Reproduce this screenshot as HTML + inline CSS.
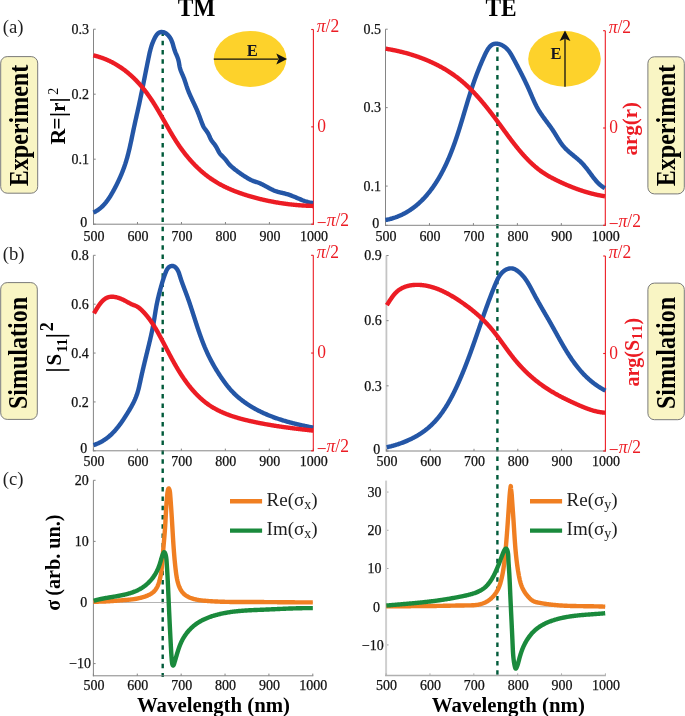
<!DOCTYPE html><html><head><meta charset="utf-8"><style>html,body{margin:0;padding:0;background:#fff;}svg{display:block;will-change:transform;}text{font-family:"Liberation Serif",serif;}</style></head><body>
<svg width="685" height="716" viewBox="0 0 685 716">
<rect width="685" height="716" fill="#fff"/>
<line x1="162.70" y1="31.40" x2="162.70" y2="677.00" stroke="#005a3a" stroke-width="2.4" stroke-dasharray="4.5 4.8"/>
<line x1="497.40" y1="47.20" x2="497.40" y2="677.00" stroke="#005a3a" stroke-width="2.4" stroke-dasharray="4.5 4.8"/>
<line x1="93.50" y1="29.20" x2="93.50" y2="224.70" stroke="#858585" stroke-width="1.00"/>
<line x1="93.00" y1="224.20" x2="313.90" y2="224.20" stroke="#858585" stroke-width="1.00"/>
<line x1="93.50" y1="224.20" x2="93.50" y2="222.00" stroke="#858585" stroke-width="1.00"/>
<line x1="137.48" y1="224.20" x2="137.48" y2="222.00" stroke="#858585" stroke-width="1.00"/>
<line x1="181.46" y1="224.20" x2="181.46" y2="222.00" stroke="#858585" stroke-width="1.00"/>
<line x1="225.44" y1="224.20" x2="225.44" y2="222.00" stroke="#858585" stroke-width="1.00"/>
<line x1="269.42" y1="224.20" x2="269.42" y2="222.00" stroke="#858585" stroke-width="1.00"/>
<line x1="313.40" y1="224.20" x2="313.40" y2="222.00" stroke="#858585" stroke-width="1.00"/>
<line x1="93.50" y1="224.20" x2="95.70" y2="224.20" stroke="#858585" stroke-width="1.00"/>
<line x1="93.50" y1="159.20" x2="95.70" y2="159.20" stroke="#858585" stroke-width="1.00"/>
<line x1="93.50" y1="94.20" x2="95.70" y2="94.20" stroke="#858585" stroke-width="1.00"/>
<line x1="93.50" y1="29.20" x2="95.70" y2="29.20" stroke="#858585" stroke-width="1.00"/>
<line x1="313.40" y1="29.50" x2="313.40" y2="224.70" stroke="#ec1c24" stroke-width="1.10"/>
<line x1="313.40" y1="29.50" x2="311.20" y2="29.50" stroke="#ec1c24" stroke-width="1.10"/>
<line x1="313.40" y1="126.85" x2="311.20" y2="126.85" stroke="#ec1c24" stroke-width="1.10"/>
<line x1="313.40" y1="224.20" x2="311.20" y2="224.20" stroke="#ec1c24" stroke-width="1.10"/>
<text x="94.00" y="240.80" font-size="14" fill="#111" stroke="#111" stroke-width="0.25" text-anchor="middle">500</text>
<text x="137.98" y="240.80" font-size="14" fill="#111" stroke="#111" stroke-width="0.25" text-anchor="middle">600</text>
<text x="181.96" y="240.80" font-size="14" fill="#111" stroke="#111" stroke-width="0.25" text-anchor="middle">700</text>
<text x="225.94" y="240.80" font-size="14" fill="#111" stroke="#111" stroke-width="0.25" text-anchor="middle">800</text>
<text x="269.92" y="240.80" font-size="14" fill="#111" stroke="#111" stroke-width="0.25" text-anchor="middle">900</text>
<text x="313.90" y="240.80" font-size="14" fill="#111" stroke="#111" stroke-width="0.25" text-anchor="middle">1000</text>
<text x="87.30" y="226.80" font-size="14" fill="#111" stroke="#111" stroke-width="0.25" text-anchor="end">0</text>
<text x="88.90" y="164.00" font-size="14" fill="#111" stroke="#111" stroke-width="0.25" text-anchor="end">0.1</text>
<text x="88.90" y="99.00" font-size="14" fill="#111" stroke="#111" stroke-width="0.25" text-anchor="end">0.2</text>
<text x="88.90" y="34.00" font-size="14" fill="#111" stroke="#111" stroke-width="0.25" text-anchor="end">0.3</text>
<text x="0" y="0" font-size="17.5" fill="#ec1c24" transform="translate(316.80,31.90) scale(1,1.1)"><tspan font-style="italic">&#960;</tspan>/2</text>
<text x="0" y="0" font-size="17.5" fill="#ec1c24" transform="translate(317.30,131.85) scale(1,1.1)">0</text>
<text x="0" y="0" font-size="17.5" fill="#ec1c24" transform="translate(316.80,225.80) scale(1,1.1)"><tspan dy="2.8">&#8722;</tspan><tspan dy="-2.8" font-style="italic">&#960;</tspan>/2</text>
<line x1="385.50" y1="29.20" x2="385.50" y2="225.80" stroke="#858585" stroke-width="1.00"/>
<line x1="385.00" y1="225.30" x2="605.80" y2="225.30" stroke="#858585" stroke-width="1.00"/>
<line x1="385.50" y1="225.30" x2="385.50" y2="223.10" stroke="#858585" stroke-width="1.00"/>
<line x1="429.46" y1="225.30" x2="429.46" y2="223.10" stroke="#858585" stroke-width="1.00"/>
<line x1="473.42" y1="225.30" x2="473.42" y2="223.10" stroke="#858585" stroke-width="1.00"/>
<line x1="517.38" y1="225.30" x2="517.38" y2="223.10" stroke="#858585" stroke-width="1.00"/>
<line x1="561.34" y1="225.30" x2="561.34" y2="223.10" stroke="#858585" stroke-width="1.00"/>
<line x1="605.30" y1="225.30" x2="605.30" y2="223.10" stroke="#858585" stroke-width="1.00"/>
<line x1="385.50" y1="225.30" x2="387.70" y2="225.30" stroke="#858585" stroke-width="1.00"/>
<line x1="385.50" y1="186.08" x2="387.70" y2="186.08" stroke="#858585" stroke-width="1.00"/>
<line x1="385.50" y1="107.64" x2="387.70" y2="107.64" stroke="#858585" stroke-width="1.00"/>
<line x1="385.50" y1="29.20" x2="387.70" y2="29.20" stroke="#858585" stroke-width="1.00"/>
<line x1="605.30" y1="30.70" x2="605.30" y2="225.80" stroke="#ec1c24" stroke-width="1.10"/>
<line x1="605.30" y1="30.70" x2="603.10" y2="30.70" stroke="#ec1c24" stroke-width="1.10"/>
<line x1="605.30" y1="128.00" x2="603.10" y2="128.00" stroke="#ec1c24" stroke-width="1.10"/>
<line x1="605.30" y1="225.30" x2="603.10" y2="225.30" stroke="#ec1c24" stroke-width="1.10"/>
<text x="386.00" y="240.80" font-size="14" fill="#111" stroke="#111" stroke-width="0.25" text-anchor="middle">500</text>
<text x="429.96" y="240.80" font-size="14" fill="#111" stroke="#111" stroke-width="0.25" text-anchor="middle">600</text>
<text x="473.92" y="240.80" font-size="14" fill="#111" stroke="#111" stroke-width="0.25" text-anchor="middle">700</text>
<text x="517.88" y="240.80" font-size="14" fill="#111" stroke="#111" stroke-width="0.25" text-anchor="middle">800</text>
<text x="561.84" y="240.80" font-size="14" fill="#111" stroke="#111" stroke-width="0.25" text-anchor="middle">900</text>
<text x="605.80" y="240.80" font-size="14" fill="#111" stroke="#111" stroke-width="0.25" text-anchor="middle">1000</text>
<text x="379.30" y="227.90" font-size="14" fill="#111" stroke="#111" stroke-width="0.25" text-anchor="end">0</text>
<text x="380.90" y="190.88" font-size="14" fill="#111" stroke="#111" stroke-width="0.25" text-anchor="end">0.1</text>
<text x="380.90" y="112.44" font-size="14" fill="#111" stroke="#111" stroke-width="0.25" text-anchor="end">0.3</text>
<text x="380.90" y="34.00" font-size="14" fill="#111" stroke="#111" stroke-width="0.25" text-anchor="end">0.5</text>
<text x="0" y="0" font-size="17.5" fill="#ec1c24" transform="translate(608.70,33.10) scale(1,1.1)"><tspan font-style="italic">&#960;</tspan>/2</text>
<text x="0" y="0" font-size="17.5" fill="#ec1c24" transform="translate(609.20,133.00) scale(1,1.1)">0</text>
<text x="0" y="0" font-size="17.5" fill="#ec1c24" transform="translate(608.70,226.90) scale(1,1.1)"><tspan dy="2.8">&#8722;</tspan><tspan dy="-2.8" font-style="italic">&#960;</tspan>/2</text>
<line x1="93.40" y1="255.30" x2="93.40" y2="451.30" stroke="#858585" stroke-width="1.00"/>
<line x1="92.90" y1="450.80" x2="313.80" y2="450.80" stroke="#858585" stroke-width="1.00"/>
<line x1="93.40" y1="450.80" x2="93.40" y2="448.60" stroke="#858585" stroke-width="1.00"/>
<line x1="137.38" y1="450.80" x2="137.38" y2="448.60" stroke="#858585" stroke-width="1.00"/>
<line x1="181.36" y1="450.80" x2="181.36" y2="448.60" stroke="#858585" stroke-width="1.00"/>
<line x1="225.34" y1="450.80" x2="225.34" y2="448.60" stroke="#858585" stroke-width="1.00"/>
<line x1="269.32" y1="450.80" x2="269.32" y2="448.60" stroke="#858585" stroke-width="1.00"/>
<line x1="313.30" y1="450.80" x2="313.30" y2="448.60" stroke="#858585" stroke-width="1.00"/>
<line x1="93.40" y1="450.80" x2="95.60" y2="450.80" stroke="#858585" stroke-width="1.00"/>
<line x1="93.40" y1="401.93" x2="95.60" y2="401.93" stroke="#858585" stroke-width="1.00"/>
<line x1="93.40" y1="353.05" x2="95.60" y2="353.05" stroke="#858585" stroke-width="1.00"/>
<line x1="93.40" y1="304.18" x2="95.60" y2="304.18" stroke="#858585" stroke-width="1.00"/>
<line x1="93.40" y1="255.30" x2="95.60" y2="255.30" stroke="#858585" stroke-width="1.00"/>
<line x1="313.30" y1="255.30" x2="313.30" y2="451.30" stroke="#ec1c24" stroke-width="1.10"/>
<line x1="313.30" y1="255.30" x2="311.10" y2="255.30" stroke="#ec1c24" stroke-width="1.10"/>
<line x1="313.30" y1="353.05" x2="311.10" y2="353.05" stroke="#ec1c24" stroke-width="1.10"/>
<line x1="313.30" y1="450.80" x2="311.10" y2="450.80" stroke="#ec1c24" stroke-width="1.10"/>
<text x="93.90" y="466.00" font-size="14" fill="#111" stroke="#111" stroke-width="0.25" text-anchor="middle">500</text>
<text x="137.88" y="466.00" font-size="14" fill="#111" stroke="#111" stroke-width="0.25" text-anchor="middle">600</text>
<text x="181.86" y="466.00" font-size="14" fill="#111" stroke="#111" stroke-width="0.25" text-anchor="middle">700</text>
<text x="225.84" y="466.00" font-size="14" fill="#111" stroke="#111" stroke-width="0.25" text-anchor="middle">800</text>
<text x="269.82" y="466.00" font-size="14" fill="#111" stroke="#111" stroke-width="0.25" text-anchor="middle">900</text>
<text x="313.80" y="466.00" font-size="14" fill="#111" stroke="#111" stroke-width="0.25" text-anchor="middle">1000</text>
<text x="87.20" y="453.40" font-size="14" fill="#111" stroke="#111" stroke-width="0.25" text-anchor="end">0</text>
<text x="88.80" y="406.73" font-size="14" fill="#111" stroke="#111" stroke-width="0.25" text-anchor="end">0.2</text>
<text x="88.80" y="357.85" font-size="14" fill="#111" stroke="#111" stroke-width="0.25" text-anchor="end">0.4</text>
<text x="88.80" y="308.98" font-size="14" fill="#111" stroke="#111" stroke-width="0.25" text-anchor="end">0.6</text>
<text x="88.80" y="260.10" font-size="14" fill="#111" stroke="#111" stroke-width="0.25" text-anchor="end">0.8</text>
<text x="0" y="0" font-size="17.5" fill="#ec1c24" transform="translate(316.70,257.70) scale(1,1.1)"><tspan font-style="italic">&#960;</tspan>/2</text>
<text x="0" y="0" font-size="17.5" fill="#ec1c24" transform="translate(317.20,358.05) scale(1,1.1)">0</text>
<text x="0" y="0" font-size="17.5" fill="#ec1c24" transform="translate(316.70,452.40) scale(1,1.1)"><tspan dy="2.8">&#8722;</tspan><tspan dy="-2.8" font-style="italic">&#960;</tspan>/2</text>
<line x1="386.40" y1="255.50" x2="386.40" y2="451.60" stroke="#c4c4c4" stroke-width="1.80"/>
<line x1="385.90" y1="451.00" x2="605.90" y2="451.00" stroke="#858585" stroke-width="1.00"/>
<line x1="386.40" y1="451.00" x2="386.40" y2="448.80" stroke="#858585" stroke-width="1.00"/>
<line x1="430.20" y1="451.00" x2="430.20" y2="448.80" stroke="#858585" stroke-width="1.00"/>
<line x1="474.00" y1="451.00" x2="474.00" y2="448.80" stroke="#858585" stroke-width="1.00"/>
<line x1="517.80" y1="451.00" x2="517.80" y2="448.80" stroke="#858585" stroke-width="1.00"/>
<line x1="561.60" y1="451.00" x2="561.60" y2="448.80" stroke="#858585" stroke-width="1.00"/>
<line x1="605.40" y1="451.00" x2="605.40" y2="448.80" stroke="#858585" stroke-width="1.00"/>
<line x1="386.40" y1="451.00" x2="388.60" y2="451.00" stroke="#858585" stroke-width="1.00"/>
<line x1="386.40" y1="385.83" x2="388.60" y2="385.83" stroke="#858585" stroke-width="1.00"/>
<line x1="386.40" y1="320.67" x2="388.60" y2="320.67" stroke="#858585" stroke-width="1.00"/>
<line x1="386.40" y1="255.50" x2="388.60" y2="255.50" stroke="#858585" stroke-width="1.00"/>
<line x1="605.40" y1="256.00" x2="605.40" y2="451.50" stroke="#ec1c24" stroke-width="1.10"/>
<line x1="605.40" y1="256.00" x2="603.20" y2="256.00" stroke="#ec1c24" stroke-width="1.10"/>
<line x1="605.40" y1="353.50" x2="603.20" y2="353.50" stroke="#ec1c24" stroke-width="1.10"/>
<line x1="605.40" y1="451.00" x2="603.20" y2="451.00" stroke="#ec1c24" stroke-width="1.10"/>
<text x="386.90" y="466.00" font-size="14" fill="#111" stroke="#111" stroke-width="0.25" text-anchor="middle">500</text>
<text x="430.70" y="466.00" font-size="14" fill="#111" stroke="#111" stroke-width="0.25" text-anchor="middle">600</text>
<text x="474.50" y="466.00" font-size="14" fill="#111" stroke="#111" stroke-width="0.25" text-anchor="middle">700</text>
<text x="518.30" y="466.00" font-size="14" fill="#111" stroke="#111" stroke-width="0.25" text-anchor="middle">800</text>
<text x="562.10" y="466.00" font-size="14" fill="#111" stroke="#111" stroke-width="0.25" text-anchor="middle">900</text>
<text x="605.90" y="466.00" font-size="14" fill="#111" stroke="#111" stroke-width="0.25" text-anchor="middle">1000</text>
<text x="380.20" y="453.60" font-size="14" fill="#111" stroke="#111" stroke-width="0.25" text-anchor="end">0</text>
<text x="381.80" y="390.63" font-size="14" fill="#111" stroke="#111" stroke-width="0.25" text-anchor="end">0.3</text>
<text x="381.80" y="325.47" font-size="14" fill="#111" stroke="#111" stroke-width="0.25" text-anchor="end">0.6</text>
<text x="381.80" y="260.30" font-size="14" fill="#111" stroke="#111" stroke-width="0.25" text-anchor="end">0.9</text>
<text x="0" y="0" font-size="17.5" fill="#ec1c24" transform="translate(608.80,258.40) scale(1,1.1)"><tspan font-style="italic">&#960;</tspan>/2</text>
<text x="0" y="0" font-size="17.5" fill="#ec1c24" transform="translate(609.30,358.50) scale(1,1.1)">0</text>
<text x="0" y="0" font-size="17.5" fill="#ec1c24" transform="translate(608.80,452.60) scale(1,1.1)"><tspan dy="2.8">&#8722;</tspan><tspan dy="-2.8" font-style="italic">&#960;</tspan>/2</text>
<line x1="93.40" y1="602.49" x2="312.80" y2="602.49" stroke="#b4b4b4" stroke-width="1.00"/>
<line x1="93.40" y1="480.30" x2="93.40" y2="676.30" stroke="#858585" stroke-width="1.00"/>
<line x1="92.90" y1="675.80" x2="313.30" y2="675.80" stroke="#858585" stroke-width="1.00"/>
<line x1="93.40" y1="675.80" x2="93.40" y2="673.60" stroke="#858585" stroke-width="1.00"/>
<line x1="137.28" y1="675.80" x2="137.28" y2="673.60" stroke="#858585" stroke-width="1.00"/>
<line x1="181.16" y1="675.80" x2="181.16" y2="673.60" stroke="#858585" stroke-width="1.00"/>
<line x1="225.04" y1="675.80" x2="225.04" y2="673.60" stroke="#858585" stroke-width="1.00"/>
<line x1="268.92" y1="675.80" x2="268.92" y2="673.60" stroke="#858585" stroke-width="1.00"/>
<line x1="312.80" y1="675.80" x2="312.80" y2="673.60" stroke="#858585" stroke-width="1.00"/>
<line x1="93.40" y1="663.58" x2="95.60" y2="663.58" stroke="#858585" stroke-width="1.00"/>
<line x1="93.40" y1="602.49" x2="95.60" y2="602.49" stroke="#858585" stroke-width="1.00"/>
<line x1="93.40" y1="541.39" x2="95.60" y2="541.39" stroke="#858585" stroke-width="1.00"/>
<line x1="93.40" y1="480.30" x2="95.60" y2="480.30" stroke="#858585" stroke-width="1.00"/>
<text x="93.90" y="689.80" font-size="14" fill="#111" stroke="#111" stroke-width="0.25" text-anchor="middle">500</text>
<text x="137.78" y="689.80" font-size="14" fill="#111" stroke="#111" stroke-width="0.25" text-anchor="middle">600</text>
<text x="181.66" y="689.80" font-size="14" fill="#111" stroke="#111" stroke-width="0.25" text-anchor="middle">700</text>
<text x="225.54" y="689.80" font-size="14" fill="#111" stroke="#111" stroke-width="0.25" text-anchor="middle">800</text>
<text x="269.42" y="689.80" font-size="14" fill="#111" stroke="#111" stroke-width="0.25" text-anchor="middle">900</text>
<text x="313.30" y="689.80" font-size="14" fill="#111" stroke="#111" stroke-width="0.25" text-anchor="middle">1000</text>
<text x="91.10" y="668.38" font-size="14" fill="#111" stroke="#111" stroke-width="0.25" text-anchor="end">&#8722;10</text>
<text x="87.20" y="607.29" font-size="14" fill="#111" stroke="#111" stroke-width="0.25" text-anchor="end">0</text>
<text x="88.80" y="546.19" font-size="14" fill="#111" stroke="#111" stroke-width="0.25" text-anchor="end">10</text>
<text x="88.80" y="485.10" font-size="14" fill="#111" stroke="#111" stroke-width="0.25" text-anchor="end">20</text>
<line x1="386.10" y1="606.71" x2="605.40" y2="606.71" stroke="#b4b4b4" stroke-width="1.00"/>
<line x1="386.10" y1="480.60" x2="386.10" y2="676.10" stroke="#cfcfcf" stroke-width="2.00"/>
<line x1="385.10" y1="675.50" x2="605.90" y2="675.50" stroke="#b0b0b0" stroke-width="1.30"/>
<line x1="386.10" y1="675.50" x2="386.10" y2="673.30" stroke="#b0b0b0" stroke-width="1.00"/>
<line x1="429.96" y1="675.50" x2="429.96" y2="673.30" stroke="#b0b0b0" stroke-width="1.00"/>
<line x1="473.82" y1="675.50" x2="473.82" y2="673.30" stroke="#b0b0b0" stroke-width="1.00"/>
<line x1="517.68" y1="675.50" x2="517.68" y2="673.30" stroke="#b0b0b0" stroke-width="1.00"/>
<line x1="561.54" y1="675.50" x2="561.54" y2="673.30" stroke="#b0b0b0" stroke-width="1.00"/>
<line x1="605.40" y1="675.50" x2="605.40" y2="673.30" stroke="#b0b0b0" stroke-width="1.00"/>
<line x1="387.10" y1="644.93" x2="388.50" y2="644.93" stroke="#a0a0a0" stroke-width="1.00"/>
<line x1="387.10" y1="606.71" x2="388.50" y2="606.71" stroke="#a0a0a0" stroke-width="1.00"/>
<line x1="387.10" y1="568.50" x2="388.50" y2="568.50" stroke="#a0a0a0" stroke-width="1.00"/>
<line x1="387.10" y1="530.28" x2="388.50" y2="530.28" stroke="#a0a0a0" stroke-width="1.00"/>
<line x1="387.10" y1="492.06" x2="388.50" y2="492.06" stroke="#a0a0a0" stroke-width="1.00"/>
<text x="386.60" y="689.80" font-size="14" fill="#111" stroke="#111" stroke-width="0.25" text-anchor="middle">500</text>
<text x="430.46" y="689.80" font-size="14" fill="#111" stroke="#111" stroke-width="0.25" text-anchor="middle">600</text>
<text x="474.32" y="689.80" font-size="14" fill="#111" stroke="#111" stroke-width="0.25" text-anchor="middle">700</text>
<text x="518.18" y="689.80" font-size="14" fill="#111" stroke="#111" stroke-width="0.25" text-anchor="middle">800</text>
<text x="562.04" y="689.80" font-size="14" fill="#111" stroke="#111" stroke-width="0.25" text-anchor="middle">900</text>
<text x="605.90" y="689.80" font-size="14" fill="#111" stroke="#111" stroke-width="0.25" text-anchor="middle">1000</text>
<text x="383.80" y="649.73" font-size="14" fill="#111" stroke="#111" stroke-width="0.25" text-anchor="end">&#8722;10</text>
<text x="379.90" y="611.51" font-size="14" fill="#111" stroke="#111" stroke-width="0.25" text-anchor="end">0</text>
<text x="381.50" y="573.30" font-size="14" fill="#111" stroke="#111" stroke-width="0.25" text-anchor="end">10</text>
<text x="381.50" y="535.08" font-size="14" fill="#111" stroke="#111" stroke-width="0.25" text-anchor="end">20</text>
<text x="381.50" y="496.86" font-size="14" fill="#111" stroke="#111" stroke-width="0.25" text-anchor="end">30</text>
<path d="M93.46,212.59 L94.16,212.24 L94.84,211.89 L95.51,211.52 L96.17,211.13 L96.81,210.74 L97.44,210.33 L98.06,209.90 L98.66,209.47 L99.26,209.02 L99.84,208.57 L100.41,208.10 L100.97,207.62 L101.52,207.13 L102.05,206.62 L102.58,206.11 L103.10,205.59 L103.61,205.06 L104.10,204.52 L104.59,203.98 L105.07,203.42 L105.54,202.86 L106.01,202.29 L106.46,201.71 L106.91,201.12 L107.35,200.53 L107.78,199.93 L108.21,199.33 L108.63,198.72 L109.04,198.10 L109.45,197.48 L109.85,196.85 L110.24,196.22 L110.64,195.59 L111.02,194.95 L111.40,194.31 L111.78,193.67 L112.15,193.02 L112.52,192.37 L112.89,191.72 L113.25,191.07 L113.61,190.41 L113.97,189.76 L114.32,189.10 L114.67,188.44 L115.02,187.78 L115.37,187.12 L115.71,186.46 L116.05,185.80 L116.39,185.13 L116.73,184.47 L117.06,183.80 L117.39,183.13 L117.71,182.46 L118.04,181.79 L118.36,181.12 L118.67,180.45 L118.99,179.77 L119.30,179.10 L119.60,178.42 L119.91,177.75 L120.21,177.07 L120.51,176.39 L120.80,175.70 L121.09,175.02 L121.38,174.34 L121.66,173.65 L121.94,172.97 L122.22,172.28 L122.50,171.59 L122.77,170.90 L123.03,170.21 L123.30,169.51 L123.55,168.82 L123.81,168.13 L124.06,167.43 L124.31,166.73 L124.56,166.03 L124.80,165.33 L125.03,164.63 L125.27,163.93 L125.49,163.22 L125.72,162.52 L125.94,161.81 L126.16,161.10 L126.37,160.39 L126.58,159.68 L126.79,158.97 L127.00,158.26 L127.20,157.55 L127.39,156.83 L127.59,156.12 L127.78,155.40 L127.97,154.68 L128.16,153.96 L128.34,153.24 L128.52,152.52 L128.70,151.80 L128.88,151.08 L129.05,150.36 L129.23,149.64 L129.40,148.92 L129.56,148.19 L129.73,147.47 L129.90,146.74 L130.06,146.02 L130.22,145.29 L130.38,144.57 L130.54,143.84 L130.70,143.11 L130.86,142.39 L131.01,141.66 L131.17,140.93 L131.32,140.20 L131.48,139.47 L131.63,138.75 L131.78,138.02 L131.93,137.29 L132.08,136.56 L132.24,135.83 L132.39,135.10 L132.54,134.38 L132.69,133.65 L132.84,132.92 L132.99,132.19 L133.14,131.47 L133.30,130.74 L133.45,130.01 L133.60,129.28 L133.76,128.56 L133.91,127.83 L134.07,127.11 L134.22,126.38 L134.38,125.66 L134.54,124.93 L134.70,124.21 L134.86,123.48 L135.02,122.76 L135.18,122.04 L135.34,121.31 L135.50,120.59 L135.66,119.87 L135.82,119.14 L135.99,118.42 L136.15,117.70 L136.31,116.98 L136.47,116.25 L136.64,115.53 L136.80,114.81 L136.96,114.09 L137.12,113.36 L137.29,112.64 L137.45,111.92 L137.61,111.19 L137.77,110.47 L137.93,109.75 L138.10,109.03 L138.26,108.30 L138.42,107.58 L138.57,106.85 L138.73,106.13 L138.89,105.41 L139.05,104.68 L139.21,103.96 L139.36,103.23 L139.52,102.51 L139.67,101.78 L139.83,101.05 L139.98,100.33 L140.14,99.60 L140.29,98.87 L140.44,98.15 L140.59,97.42 L140.74,96.69 L140.89,95.96 L141.04,95.24 L141.19,94.51 L141.34,93.78 L141.49,93.05 L141.64,92.32 L141.79,91.60 L141.94,90.87 L142.09,90.14 L142.23,89.41 L142.38,88.68 L142.53,87.95 L142.68,87.22 L142.82,86.50 L142.97,85.77 L143.11,85.04 L143.26,84.31 L143.41,83.58 L143.55,82.85 L143.70,82.12 L143.84,81.39 L143.99,80.66 L144.13,79.93 L144.28,79.20 L144.42,78.48 L144.57,77.75 L144.71,77.02 L144.85,76.29 L145.00,75.56 L145.14,74.83 L145.29,74.10 L145.43,73.38 L145.58,72.65 L145.72,71.92 L145.87,71.19 L146.01,70.46 L146.16,69.74 L146.30,69.01 L146.45,68.28 L146.59,67.55 L146.74,66.83 L146.89,66.10 L147.03,65.37 L147.18,64.65 L147.33,63.92 L147.47,63.20 L147.62,62.47 L147.77,61.75 L147.92,61.02 L148.06,60.30 L148.21,59.57 L148.36,58.85 L148.51,58.12 L148.66,57.40 L148.81,56.68 L148.96,55.95 L149.12,55.23 L149.27,54.51 L149.43,53.79 L149.59,53.07 L149.76,52.35 L149.93,51.63 L150.11,50.92 L150.29,50.20 L150.47,49.49 L150.66,48.77 L150.86,48.06 L151.07,47.35 L151.28,46.64 L151.51,45.93 L151.74,45.22 L151.98,44.52 L152.23,43.82 L152.49,43.12 L152.76,42.42 L153.04,41.72 L153.33,41.03 L153.64,40.33 L153.96,39.64 L154.29,38.95 L154.64,38.27 L155.00,37.58 L155.37,36.90 L155.76,36.24 L156.17,35.58 L156.61,34.96 L157.07,34.38 L157.56,33.84 L158.08,33.35 L158.63,32.93 L159.22,32.58 L159.86,32.32 L160.52,32.13 L161.22,32.03 L161.93,32.01 L162.65,32.07 L163.37,32.20 L164.08,32.41 L164.77,32.69 L165.43,33.03 L166.06,33.44 L166.67,33.89 L167.25,34.38 L167.80,34.90 L168.32,35.44 L168.81,36.01 L169.28,36.60 L169.72,37.21 L170.14,37.84 L170.53,38.49 L170.89,39.15 L171.22,39.81 L171.53,40.49 L171.82,41.17 L172.08,41.86 L172.33,42.56 L172.56,43.26 L172.78,43.96 L172.98,44.67 L173.18,45.38 L173.38,46.09 L173.58,46.80 L173.77,47.51 L173.97,48.22 L174.18,48.93 L174.40,49.63 L174.63,50.34 L174.88,51.04 L175.14,51.73 L175.42,52.42 L175.70,53.11 L176.00,53.79 L176.30,54.48 L176.59,55.16 L176.89,55.85 L177.17,56.53 L177.45,57.22 L177.71,57.92 L177.96,58.62 L178.18,59.32 L178.38,60.04 L178.55,60.76 L178.71,61.48 L178.85,62.21 L178.98,62.94 L179.11,63.67 L179.23,64.40 L179.35,65.14 L179.48,65.87 L179.62,66.60 L179.77,67.32 L179.95,68.04 L180.14,68.75 L180.36,69.45 L180.60,70.15 L180.85,70.85 L181.12,71.54 L181.40,72.22 L181.69,72.91 L181.99,73.59 L182.29,74.27 L182.59,74.96 L182.88,75.64 L183.18,76.33 L183.46,77.02 L183.73,77.71 L184.00,78.40 L184.26,79.10 L184.51,79.80 L184.75,80.50 L184.99,81.20 L185.22,81.91 L185.45,82.61 L185.68,83.31 L185.91,84.02 L186.14,84.72 L186.37,85.42 L186.59,86.13 L186.83,86.83 L187.06,87.52 L187.30,88.22 L187.55,88.92 L187.80,89.61 L188.06,90.30 L188.33,90.99 L188.60,91.67 L188.88,92.36 L189.16,93.04 L189.45,93.72 L189.75,94.40 L190.04,95.08 L190.34,95.75 L190.65,96.43 L190.96,97.10 L191.27,97.78 L191.58,98.45 L191.89,99.12 L192.21,99.80 L192.53,100.47 L192.85,101.14 L193.16,101.81 L193.48,102.48 L193.80,103.15 L194.12,103.83 L194.44,104.50 L194.75,105.17 L195.06,105.84 L195.38,106.52 L195.68,107.20 L195.99,107.87 L196.29,108.55 L196.59,109.23 L196.89,109.91 L197.18,110.59 L197.46,111.28 L197.75,111.96 L198.02,112.65 L198.30,113.34 L198.57,114.03 L198.84,114.72 L199.10,115.41 L199.37,116.11 L199.63,116.80 L199.89,117.49 L200.15,118.19 L200.40,118.88 L200.66,119.58 L200.92,120.27 L201.18,120.97 L201.43,121.66 L201.69,122.36 L201.95,123.05 L202.21,123.74 L202.48,124.43 L202.77,125.11 L203.07,125.78 L203.39,126.44 L203.74,127.09 L204.12,127.71 L204.53,128.32 L204.96,128.92 L205.40,129.52 L205.85,130.11 L206.29,130.70 L206.72,131.30 L207.14,131.92 L207.53,132.54 L207.91,133.18 L208.28,133.82 L208.62,134.48 L208.95,135.14 L209.26,135.81 L209.56,136.49 L209.85,137.17 L210.15,137.85 L210.46,138.52 L210.78,139.17 L211.13,139.81 L211.50,140.44 L211.92,141.04 L212.35,141.63 L212.80,142.20 L213.27,142.78 L213.73,143.35 L214.19,143.93 L214.63,144.52 L215.06,145.13 L215.48,145.75 L215.87,146.37 L216.26,147.01 L216.63,147.66 L216.99,148.31 L217.34,148.97 L217.68,149.63 L218.01,150.29 L218.35,150.95 L218.70,151.60 L219.06,152.24 L219.44,152.86 L219.84,153.47 L220.28,154.04 L220.75,154.60 L221.25,155.13 L221.77,155.65 L222.30,156.17 L222.83,156.68 L223.36,157.20 L223.87,157.73 L224.38,158.27 L224.88,158.81 L225.36,159.37 L225.83,159.94 L226.29,160.52 L226.73,161.11 L227.16,161.70 L227.60,162.30 L228.03,162.89 L228.48,163.47 L228.94,164.03 L229.43,164.58 L229.94,165.11 L230.46,165.63 L231.00,166.13 L231.55,166.62 L232.10,167.11 L232.66,167.59 L233.23,168.06 L233.80,168.53 L234.37,169.00 L234.94,169.46 L235.53,169.91 L236.11,170.36 L236.70,170.80 L237.29,171.25 L237.88,171.68 L238.48,172.12 L239.08,172.55 L239.68,172.97 L240.29,173.40 L240.90,173.82 L241.51,174.23 L242.12,174.65 L242.73,175.06 L243.35,175.47 L243.97,175.88 L244.59,176.29 L245.21,176.70 L245.83,177.10 L246.46,177.49 L247.09,177.88 L247.73,178.26 L248.37,178.63 L249.01,178.99 L249.66,179.34 L250.32,179.67 L250.98,179.99 L251.64,180.29 L252.32,180.58 L253.00,180.84 L253.69,181.10 L254.38,181.34 L255.08,181.57 L255.77,181.81 L256.47,182.04 L257.16,182.29 L257.86,182.54 L258.54,182.79 L259.23,183.06 L259.91,183.34 L260.59,183.63 L261.27,183.93 L261.93,184.25 L262.60,184.58 L263.26,184.91 L263.92,185.26 L264.57,185.60 L265.23,185.96 L265.88,186.32 L266.53,186.68 L267.18,187.04 L267.84,187.40 L268.49,187.76 L269.14,188.12 L269.80,188.47 L270.45,188.82 L271.11,189.15 L271.78,189.48 L272.44,189.80 L273.11,190.11 L273.79,190.41 L274.47,190.69 L275.16,190.96 L275.85,191.21 L276.55,191.44 L277.25,191.66 L277.96,191.86 L278.68,192.05 L279.40,192.24 L280.12,192.41 L280.84,192.59 L281.56,192.75 L282.29,192.92 L283.01,193.09 L283.73,193.26 L284.45,193.43 L285.17,193.62 L285.89,193.81 L286.60,194.01 L287.31,194.22 L288.01,194.44 L288.71,194.67 L289.41,194.91 L290.11,195.16 L290.80,195.41 L291.49,195.67 L292.18,195.94 L292.87,196.21 L293.56,196.49 L294.24,196.77 L294.93,197.06 L295.61,197.34 L296.30,197.63 L296.98,197.93 L297.66,198.22 L298.35,198.51 L299.04,198.80 L299.72,199.09 L300.41,199.38 L301.10,199.66 L301.79,199.94 L302.48,200.22 L303.18,200.48 L303.87,200.74 L304.57,201.00 L305.27,201.24 L305.97,201.47 L306.68,201.69 L307.39,201.90 L308.10,202.10 L308.82,202.28 L309.53,202.45 L310.26,202.60 L310.98,202.73 L311.72,202.85 L312.45,202.95 L313.19,203.03" fill="none" stroke="#2456a6" stroke-width="4.40" stroke-linejoin="round" stroke-linecap="butt"/>
<path d="M93.32,55.37 L93.80,55.49 L94.27,55.60 L94.75,55.71 L95.22,55.83 L95.70,55.95 L96.17,56.08 L96.64,56.21 L97.11,56.34 L97.57,56.47 L98.04,56.60 L98.50,56.74 L98.96,56.88 L99.43,57.03 L99.88,57.17 L100.34,57.32 L100.80,57.47 L101.25,57.63 L101.71,57.78 L102.16,57.94 L102.61,58.11 L103.06,58.27 L103.51,58.44 L103.95,58.61 L104.40,58.78 L104.84,58.95 L105.28,59.13 L105.72,59.31 L106.16,59.49 L106.60,59.68 L107.03,59.87 L107.47,60.06 L107.90,60.25 L108.33,60.44 L108.76,60.64 L109.19,60.84 L109.62,61.04 L110.04,61.24 L110.46,61.45 L110.89,61.66 L111.31,61.87 L111.73,62.08 L112.15,62.30 L112.56,62.52 L112.98,62.74 L113.39,62.96 L113.80,63.19 L114.22,63.41 L114.62,63.64 L115.03,63.87 L115.44,64.11 L115.84,64.34 L116.25,64.58 L116.65,64.82 L117.05,65.06 L117.45,65.31 L117.85,65.56 L118.25,65.80 L118.64,66.05 L119.03,66.31 L119.43,66.56 L119.82,66.82 L120.21,67.08 L120.59,67.34 L120.98,67.60 L121.37,67.87 L121.75,68.13 L122.13,68.40 L122.51,68.67 L122.89,68.95 L123.27,69.22 L123.65,69.50 L124.02,69.78 L124.40,70.06 L124.77,70.34 L125.14,70.62 L125.51,70.91 L125.88,71.19 L126.24,71.48 L126.61,71.78 L126.97,72.07 L127.34,72.36 L127.70,72.66 L128.06,72.96 L128.42,73.26 L128.77,73.56 L129.13,73.86 L129.48,74.17 L129.84,74.47 L130.19,74.78 L130.54,75.09 L130.89,75.40 L131.23,75.72 L131.58,76.03 L131.92,76.35 L132.27,76.67 L132.61,76.99 L132.95,77.31 L133.29,77.63 L133.63,77.95 L133.96,78.28 L134.30,78.61 L134.63,78.94 L134.96,79.27 L135.29,79.60 L135.62,79.93 L135.95,80.27 L136.28,80.60 L136.60,80.94 L136.93,81.28 L137.25,81.62 L137.57,81.96 L137.89,82.30 L138.21,82.65 L138.53,82.99 L138.84,83.34 L139.16,83.68 L139.47,84.03 L139.78,84.38 L140.09,84.74 L140.40,85.09 L140.71,85.44 L141.02,85.80 L141.32,86.15 L141.63,86.51 L141.93,86.87 L142.23,87.23 L142.53,87.59 L142.83,87.95 L143.12,88.32 L143.42,88.68 L143.71,89.05 L144.01,89.41 L144.30,89.78 L144.59,90.15 L144.88,90.52 L145.17,90.89 L145.45,91.26 L145.74,91.64 L146.02,92.01 L146.30,92.38 L146.59,92.76 L146.87,93.14 L147.14,93.51 L147.42,93.89 L147.70,94.27 L147.97,94.65 L148.25,95.03 L148.52,95.41 L148.79,95.80 L149.06,96.18 L149.33,96.56 L149.59,96.95 L149.86,97.33 L150.13,97.72 L150.39,98.11 L150.65,98.50 L150.92,98.89 L151.18,99.28 L151.44,99.67 L151.70,100.06 L151.95,100.45 L152.21,100.84 L152.47,101.23 L152.72,101.63 L152.97,102.02 L153.23,102.42 L153.48,102.81 L153.73,103.21 L153.98,103.60 L154.23,104.00 L154.48,104.40 L154.73,104.80 L154.98,105.20 L155.22,105.60 L155.47,106.00 L155.72,106.40 L155.96,106.80 L156.20,107.20 L156.45,107.60 L156.69,108.00 L156.93,108.41 L157.17,108.81 L157.41,109.21 L157.65,109.62 L157.89,110.02 L158.13,110.43 L158.37,110.83 L158.61,111.24 L158.85,111.64 L159.09,112.05 L159.32,112.46 L159.56,112.86 L159.80,113.27 L160.03,113.68 L160.27,114.09 L160.50,114.49 L160.74,114.90 L160.97,115.31 L161.21,115.72 L161.44,116.13 L161.67,116.54 L161.91,116.95 L162.14,117.35 L162.37,117.76 L162.61,118.17 L162.84,118.58 L163.07,118.99 L163.30,119.40 L163.54,119.81 L163.77,120.22 L164.00,120.63 L164.23,121.04 L164.47,121.45 L164.70,121.86 L164.93,122.27 L165.16,122.68 L165.39,123.09 L165.63,123.50 L165.86,123.92 L166.09,124.33 L166.32,124.74 L166.56,125.15 L166.79,125.56 L167.02,125.97 L167.26,126.37 L167.49,126.78 L167.73,127.19 L167.96,127.60 L168.19,128.01 L168.43,128.42 L168.66,128.83 L168.90,129.24 L169.14,129.65 L169.37,130.05 L169.61,130.46 L169.85,130.87 L170.08,131.28 L170.32,131.68 L170.56,132.09 L170.80,132.50 L171.04,132.90 L171.28,133.31 L171.52,133.72 L171.76,134.12 L172.00,134.53 L172.24,134.93 L172.49,135.33 L172.73,135.74 L172.97,136.14 L173.22,136.54 L173.46,136.95 L173.71,137.35 L173.96,137.75 L174.21,138.15 L174.45,138.55 L174.70,138.95 L174.95,139.35 L175.20,139.75 L175.46,140.15 L175.71,140.55 L175.96,140.94 L176.22,141.34 L176.47,141.74 L176.73,142.13 L176.99,142.53 L177.24,142.92 L177.50,143.31 L177.76,143.71 L178.02,144.10 L178.29,144.49 L178.55,144.88 L178.82,145.27 L179.08,145.66 L179.35,146.05 L179.62,146.44 L179.88,146.83 L180.15,147.21 L180.43,147.60 L180.70,147.98 L180.97,148.37 L181.25,148.75 L181.52,149.13 L181.80,149.51 L182.08,149.90 L182.36,150.28 L182.64,150.65 L182.92,151.03 L183.20,151.41 L183.49,151.79 L183.77,152.16 L184.06,152.54 L184.35,152.91 L184.64,153.28 L184.93,153.66 L185.22,154.03 L185.51,154.40 L185.81,154.77 L186.10,155.13 L186.40,155.50 L186.70,155.87 L186.99,156.23 L187.29,156.60 L187.59,156.96 L187.90,157.32 L188.20,157.68 L188.50,158.04 L188.81,158.40 L189.12,158.76 L189.42,159.11 L189.73,159.47 L190.04,159.82 L190.36,160.18 L190.67,160.53 L190.98,160.88 L191.30,161.23 L191.61,161.58 L191.93,161.93 L192.25,162.27 L192.57,162.62 L192.89,162.96 L193.21,163.30 L193.54,163.64 L193.86,163.98 L194.19,164.32 L194.52,164.66 L194.84,165.00 L195.17,165.33 L195.50,165.67 L195.84,166.00 L196.17,166.33 L196.50,166.66 L196.84,166.99 L197.18,167.31 L197.51,167.64 L197.85,167.96 L198.19,168.29 L198.54,168.61 L198.88,168.93 L199.22,169.25 L199.57,169.56 L199.91,169.88 L200.26,170.19 L200.61,170.51 L200.96,170.82 L201.31,171.13 L201.66,171.44 L202.02,171.74 L202.37,172.05 L202.73,172.35 L203.08,172.65 L203.44,172.96 L203.80,173.25 L204.16,173.55 L204.53,173.85 L204.89,174.14 L205.25,174.44 L205.62,174.73 L205.99,175.02 L206.35,175.31 L206.72,175.59 L207.09,175.88 L207.47,176.16 L207.84,176.44 L208.21,176.72 L208.59,177.00 L208.96,177.28 L209.34,177.55 L209.72,177.82 L210.10,178.09 L210.48,178.36 L210.87,178.63 L211.25,178.90 L211.64,179.16 L212.02,179.42 L212.41,179.68 L212.80,179.94 L213.19,180.20 L213.58,180.46 L213.97,180.71 L214.37,180.96 L214.76,181.21 L215.16,181.46 L215.55,181.70 L215.95,181.95 L216.35,182.19 L216.75,182.43 L217.15,182.67 L217.56,182.90 L217.96,183.14 L218.37,183.37 L218.77,183.60 L219.18,183.83 L219.59,184.06 L220.00,184.29 L220.41,184.51 L220.82,184.73 L221.24,184.95 L221.65,185.17 L222.07,185.39 L222.48,185.61 L222.90,185.82 L223.32,186.03 L223.74,186.24 L224.16,186.45 L224.58,186.66 L225.00,186.87 L225.42,187.07 L225.85,187.27 L226.27,187.48 L226.70,187.68 L227.12,187.87 L227.55,188.07 L227.98,188.27 L228.41,188.46 L228.83,188.65 L229.27,188.84 L229.70,189.03 L230.13,189.22 L230.56,189.40 L230.99,189.59 L231.43,189.77 L231.86,189.95 L232.30,190.13 L232.74,190.31 L233.17,190.49 L233.61,190.67 L234.05,190.84 L234.49,191.02 L234.93,191.19 L235.37,191.36 L235.81,191.53 L236.25,191.70 L236.69,191.86 L237.13,192.03 L237.58,192.19 L238.02,192.36 L238.46,192.52 L238.91,192.68 L239.35,192.84 L239.80,193.00 L240.25,193.15 L240.69,193.31 L241.14,193.46 L241.59,193.62 L242.03,193.77 L242.48,193.92 L242.93,194.07 L243.38,194.22 L243.83,194.37 L244.28,194.51 L244.73,194.66 L245.18,194.80 L245.63,194.95 L246.08,195.09 L246.53,195.23 L246.99,195.37 L247.44,195.51 L247.89,195.65 L248.34,195.78 L248.80,195.92 L249.25,196.06 L249.70,196.19 L250.16,196.32 L250.61,196.46 L251.06,196.59 L251.52,196.72 L251.97,196.85 L252.43,196.97 L252.88,197.10 L253.34,197.23 L253.79,197.35 L254.25,197.48 L254.70,197.60 L255.16,197.73 L255.61,197.85 L256.07,197.97 L256.52,198.09 L256.98,198.21 L257.44,198.33 L257.89,198.44 L258.35,198.56 L258.81,198.68 L259.26,198.79 L259.72,198.90 L260.18,199.02 L260.64,199.13 L261.09,199.24 L261.55,199.35 L262.01,199.46 L262.47,199.56 L262.93,199.67 L263.38,199.78 L263.84,199.88 L264.30,199.99 L264.76,200.09 L265.22,200.19 L265.68,200.29 L266.14,200.40 L266.60,200.49 L267.06,200.59 L267.52,200.69 L267.98,200.79 L268.44,200.88 L268.90,200.98 L269.36,201.07 L269.82,201.17 L270.28,201.26 L270.74,201.35 L271.20,201.44 L271.66,201.53 L272.13,201.62 L272.59,201.71 L273.05,201.79 L273.51,201.88 L273.97,201.96 L274.44,202.05 L274.90,202.13 L275.36,202.21 L275.82,202.30 L276.29,202.38 L276.75,202.46 L277.21,202.53 L277.67,202.61 L278.14,202.69 L278.60,202.77 L279.06,202.84 L279.53,202.91 L279.99,202.99 L280.46,203.06 L280.92,203.13 L281.38,203.20 L281.85,203.27 L282.31,203.34 L282.78,203.41 L283.24,203.48 L283.71,203.54 L284.17,203.61 L284.64,203.67 L285.10,203.74 L285.57,203.80 L286.03,203.86 L286.50,203.92 L286.96,203.98 L287.43,204.04 L287.90,204.10 L288.36,204.16 L288.83,204.21 L289.29,204.27 L289.76,204.32 L290.23,204.38 L290.69,204.43 L291.16,204.48 L291.63,204.53 L292.09,204.58 L292.56,204.63 L293.03,204.68 L293.49,204.73 L293.96,204.77 L294.43,204.82 L294.90,204.87 L295.36,204.91 L295.83,204.95 L296.30,205.00 L296.77,205.04 L297.23,205.08 L297.70,205.12 L298.17,205.16 L298.64,205.19 L299.11,205.23 L299.57,205.27 L300.04,205.30 L300.51,205.34 L300.98,205.37 L301.45,205.41 L301.92,205.44 L302.39,205.47 L302.86,205.50 L303.32,205.53 L303.79,205.56 L304.26,205.59 L304.73,205.61 L305.20,205.64 L305.67,205.66 L306.14,205.69 L306.61,205.71 L307.08,205.73 L307.55,205.76 L308.02,205.78 L308.49,205.80 L308.96,205.82 L309.43,205.83 L309.90,205.85 L310.37,205.87 L310.84,205.89 L311.31,205.90 L311.78,205.91 L312.25,205.93 L312.72,205.94 L313.19,205.95" fill="none" stroke="#ec1c24" stroke-width="4.40" stroke-linejoin="round" stroke-linecap="butt"/>
<path d="M385.46,220.01 L386.17,219.87 L386.88,219.73 L387.58,219.59 L388.28,219.43 L388.97,219.27 L389.66,219.11 L390.35,218.93 L391.03,218.75 L391.71,218.56 L392.38,218.37 L393.05,218.17 L393.71,217.96 L394.37,217.74 L395.03,217.52 L395.68,217.30 L396.33,217.06 L396.97,216.82 L397.61,216.58 L398.25,216.32 L398.88,216.06 L399.51,215.80 L400.13,215.53 L400.75,215.25 L401.36,214.97 L401.97,214.68 L402.58,214.38 L403.19,214.08 L403.78,213.78 L404.38,213.47 L404.97,213.15 L405.56,212.83 L406.14,212.50 L406.72,212.16 L407.30,211.82 L407.87,211.48 L408.44,211.13 L409.00,210.77 L409.56,210.41 L410.12,210.05 L410.67,209.68 L411.22,209.30 L411.77,208.92 L412.31,208.53 L412.85,208.14 L413.38,207.75 L413.91,207.35 L414.44,206.94 L414.96,206.53 L415.48,206.12 L416.00,205.70 L416.51,205.28 L417.02,204.85 L417.53,204.42 L418.03,203.98 L418.53,203.54 L419.02,203.10 L419.51,202.65 L420.00,202.19 L420.48,201.74 L420.97,201.28 L421.44,200.81 L421.92,200.34 L422.39,199.87 L422.85,199.39 L423.32,198.91 L423.78,198.43 L424.24,197.94 L424.69,197.45 L425.14,196.96 L425.59,196.46 L426.03,195.96 L426.47,195.45 L426.91,194.94 L427.34,194.43 L427.77,193.92 L428.20,193.40 L428.63,192.88 L429.05,192.36 L429.47,191.83 L429.88,191.30 L430.29,190.77 L430.70,190.23 L431.11,189.69 L431.51,189.15 L431.91,188.61 L432.31,188.07 L432.70,187.52 L433.09,186.97 L433.48,186.41 L433.86,185.86 L434.24,185.30 L434.62,184.74 L435.00,184.18 L435.37,183.61 L435.74,183.05 L436.11,182.48 L436.47,181.91 L436.83,181.33 L437.19,180.76 L437.54,180.18 L437.90,179.60 L438.25,179.02 L438.59,178.44 L438.94,177.86 L439.28,177.28 L439.62,176.69 L439.95,176.10 L440.29,175.51 L440.62,174.92 L440.94,174.33 L441.27,173.74 L441.59,173.14 L441.91,172.55 L442.23,171.95 L442.54,171.35 L442.86,170.76 L443.17,170.16 L443.47,169.55 L443.78,168.95 L444.08,168.35 L444.38,167.74 L444.68,167.14 L444.97,166.53 L445.27,165.92 L445.56,165.31 L445.85,164.70 L446.13,164.09 L446.42,163.48 L446.70,162.86 L446.98,162.25 L447.25,161.63 L447.53,161.02 L447.80,160.40 L448.08,159.78 L448.34,159.16 L448.61,158.54 L448.88,157.92 L449.14,157.30 L449.40,156.67 L449.66,156.05 L449.92,155.43 L450.18,154.80 L450.43,154.17 L450.68,153.55 L450.93,152.92 L451.18,152.29 L451.43,151.66 L451.67,151.03 L451.92,150.40 L452.16,149.77 L452.40,149.14 L452.64,148.51 L452.88,147.87 L453.11,147.24 L453.35,146.60 L453.58,145.97 L453.81,145.33 L454.04,144.70 L454.27,144.06 L454.50,143.42 L454.72,142.78 L454.95,142.14 L455.17,141.51 L455.39,140.87 L455.61,140.23 L455.83,139.59 L456.05,138.94 L456.27,138.30 L456.49,137.66 L456.70,137.02 L456.91,136.38 L457.13,135.73 L457.34,135.09 L457.55,134.45 L457.76,133.80 L457.97,133.16 L458.18,132.52 L458.38,131.87 L458.59,131.23 L458.80,130.58 L459.00,129.93 L459.20,129.29 L459.41,128.64 L459.61,128.00 L459.81,127.35 L460.01,126.71 L460.21,126.06 L460.41,125.41 L460.61,124.77 L460.81,124.12 L461.01,123.47 L461.20,122.83 L461.40,122.18 L461.60,121.53 L461.79,120.89 L461.99,120.24 L462.18,119.59 L462.38,118.95 L462.57,118.30 L462.77,117.65 L462.96,117.01 L463.15,116.36 L463.35,115.71 L463.54,115.07 L463.73,114.42 L463.93,113.77 L464.12,113.13 L464.31,112.48 L464.50,111.84 L464.69,111.19 L464.89,110.55 L465.08,109.90 L465.27,109.26 L465.46,108.62 L465.66,107.97 L465.85,107.33 L466.04,106.69 L466.23,106.04 L466.43,105.40 L466.62,104.76 L466.81,104.12 L467.01,103.48 L467.20,102.84 L467.39,102.20 L467.59,101.56 L467.78,100.92 L467.98,100.28 L468.17,99.64 L468.37,99.00 L468.57,98.36 L468.76,97.73 L468.96,97.09 L469.16,96.46 L469.36,95.82 L469.56,95.19 L469.76,94.55 L469.96,93.92 L470.16,93.29 L470.36,92.66 L470.56,92.02 L470.77,91.39 L470.97,90.76 L471.17,90.13 L471.38,89.50 L471.59,88.87 L471.80,88.24 L472.00,87.61 L472.21,86.99 L472.42,86.36 L472.64,85.73 L472.85,85.10 L473.06,84.47 L473.28,83.84 L473.50,83.22 L473.71,82.59 L473.93,81.96 L474.15,81.33 L474.38,80.70 L474.60,80.07 L474.83,79.44 L475.05,78.82 L475.28,78.19 L475.51,77.56 L475.74,76.93 L475.97,76.30 L476.21,75.67 L476.44,75.03 L476.68,74.40 L476.92,73.77 L477.16,73.14 L477.41,72.50 L477.65,71.87 L477.90,71.24 L478.15,70.60 L478.40,69.96 L478.65,69.33 L478.90,68.69 L479.16,68.05 L479.42,67.41 L479.68,66.77 L479.95,66.13 L480.21,65.49 L480.48,64.85 L480.75,64.20 L481.02,63.56 L481.30,62.91 L481.57,62.26 L481.85,61.62 L482.13,60.97 L482.42,60.32 L482.71,59.66 L483.00,59.01 L483.29,58.36 L483.58,57.70 L483.88,57.04 L484.18,56.38 L484.48,55.72 L484.79,55.06 L485.10,54.40 L485.41,53.74 L485.73,53.09 L486.05,52.45 L486.38,51.81 L486.72,51.19 L487.06,50.57 L487.41,49.97 L487.77,49.39 L488.14,48.82 L488.52,48.28 L488.90,47.75 L489.30,47.25 L489.71,46.78 L490.13,46.33 L490.56,45.91 L491.01,45.52 L491.47,45.16 L491.94,44.84 L492.43,44.55 L492.93,44.31 L493.45,44.10 L493.99,43.93 L494.54,43.81 L495.10,43.72 L495.67,43.67 L496.26,43.66 L496.85,43.69 L497.45,43.75 L498.05,43.84 L498.66,43.97 L499.27,44.13 L499.88,44.32 L500.49,44.54 L501.10,44.79 L501.70,45.07 L502.30,45.37 L502.89,45.70 L503.47,46.05 L504.04,46.42 L504.60,46.82 L505.15,47.24 L505.68,47.68 L506.20,48.13 L506.69,48.61 L507.17,49.10 L507.64,49.60 L508.09,50.12 L508.52,50.66 L508.95,51.20 L509.36,51.76 L509.76,52.33 L510.14,52.91 L510.52,53.49 L510.89,54.09 L511.25,54.69 L511.61,55.29 L511.96,55.90 L512.30,56.51 L512.64,57.13 L512.97,57.74 L513.30,58.36 L513.64,58.97 L513.97,59.59 L514.29,60.20 L514.62,60.81 L514.95,61.42 L515.27,62.03 L515.60,62.63 L515.92,63.24 L516.24,63.84 L516.56,64.45 L516.88,65.05 L517.20,65.65 L517.51,66.25 L517.83,66.85 L518.14,67.45 L518.46,68.04 L518.77,68.64 L519.08,69.24 L519.39,69.83 L519.70,70.43 L520.01,71.02 L520.31,71.62 L520.62,72.21 L520.92,72.80 L521.23,73.40 L521.53,73.99 L521.83,74.58 L522.13,75.18 L522.43,75.77 L522.72,76.36 L523.02,76.96 L523.31,77.55 L523.61,78.15 L523.90,78.74 L524.19,79.33 L524.48,79.93 L524.77,80.53 L525.06,81.12 L525.35,81.72 L525.63,82.32 L525.92,82.91 L526.20,83.51 L526.48,84.11 L526.77,84.71 L527.05,85.32 L527.33,85.92 L527.60,86.52 L527.88,87.13 L528.16,87.73 L528.43,88.34 L528.70,88.95 L528.98,89.56 L529.25,90.17 L529.52,90.79 L529.79,91.40 L530.05,92.02 L530.32,92.63 L530.59,93.25 L530.85,93.87 L531.12,94.50 L531.38,95.12 L531.65,95.74 L531.92,96.36 L532.18,96.99 L532.45,97.61 L532.72,98.23 L532.99,98.85 L533.26,99.48 L533.54,100.10 L533.81,100.72 L534.09,101.33 L534.37,101.95 L534.66,102.57 L534.95,103.18 L535.24,103.79 L535.53,104.40 L535.83,105.01 L536.14,105.61 L536.44,106.21 L536.76,106.81 L537.07,107.40 L537.40,107.99 L537.73,108.58 L538.06,109.16 L538.40,109.74 L538.74,110.32 L539.09,110.89 L539.45,111.46 L539.81,112.03 L540.17,112.59 L540.54,113.15 L540.91,113.71 L541.29,114.26 L541.67,114.81 L542.05,115.36 L542.44,115.91 L542.83,116.46 L543.22,117.00 L543.61,117.55 L544.01,118.09 L544.40,118.63 L544.80,119.17 L545.20,119.71 L545.60,120.25 L546.00,120.79 L546.41,121.33 L546.81,121.87 L547.21,122.41 L547.61,122.95 L548.02,123.49 L548.42,124.03 L548.82,124.57 L549.22,125.12 L549.61,125.66 L550.01,126.21 L550.41,126.75 L550.80,127.30 L551.19,127.85 L551.58,128.41 L551.96,128.96 L552.34,129.52 L552.72,130.08 L553.10,130.64 L553.47,131.21 L553.83,131.78 L554.20,132.35 L554.56,132.93 L554.92,133.50 L555.27,134.08 L555.63,134.66 L555.98,135.24 L556.34,135.82 L556.69,136.40 L557.04,136.98 L557.40,137.56 L557.75,138.14 L558.11,138.71 L558.46,139.29 L558.83,139.86 L559.19,140.43 L559.56,140.99 L559.93,141.55 L560.30,142.11 L560.68,142.67 L561.07,143.22 L561.46,143.76 L561.86,144.30 L562.26,144.83 L562.68,145.36 L563.09,145.88 L563.52,146.39 L563.96,146.90 L564.40,147.39 L564.85,147.88 L565.31,148.37 L565.78,148.84 L566.26,149.32 L566.74,149.78 L567.22,150.24 L567.72,150.70 L568.21,151.15 L568.71,151.59 L569.22,152.04 L569.73,152.48 L570.24,152.92 L570.76,153.35 L571.28,153.78 L571.80,154.21 L572.32,154.64 L572.85,155.07 L573.37,155.50 L573.89,155.93 L574.42,156.35 L574.94,156.78 L575.46,157.21 L575.98,157.64 L576.50,158.08 L577.02,158.51 L577.53,158.95 L578.04,159.39 L578.55,159.83 L579.05,160.28 L579.55,160.73 L580.04,161.19 L580.53,161.65 L581.01,162.12 L581.48,162.59 L581.95,163.07 L582.41,163.55 L582.87,164.04 L583.32,164.53 L583.76,165.03 L584.20,165.54 L584.63,166.05 L585.06,166.56 L585.49,167.07 L585.91,167.59 L586.33,168.12 L586.75,168.64 L587.16,169.17 L587.57,169.71 L587.98,170.24 L588.38,170.78 L588.79,171.32 L589.19,171.86 L589.60,172.40 L590.00,172.95 L590.40,173.49 L590.80,174.04 L591.20,174.58 L591.61,175.13 L592.01,175.67 L592.41,176.22 L592.82,176.76 L593.23,177.30 L593.65,177.84 L594.06,178.37 L594.48,178.90 L594.91,179.43 L595.34,179.95 L595.77,180.46 L596.21,180.97 L596.66,181.47 L597.11,181.97 L597.57,182.46 L598.04,182.94 L598.51,183.41 L598.99,183.87 L599.48,184.32 L599.98,184.76 L600.49,185.20 L601.01,185.61 L601.54,186.02 L602.08,186.42 L602.63,186.80 L603.20,187.17 L603.77,187.52 L604.36,187.86 L604.96,188.19" fill="none" stroke="#2456a6" stroke-width="4.40" stroke-linejoin="round" stroke-linecap="butt"/>
<path d="M385.68,48.69 L386.13,48.76 L386.58,48.83 L387.02,48.91 L387.47,48.98 L387.91,49.06 L388.36,49.14 L388.81,49.21 L389.25,49.29 L389.70,49.37 L390.15,49.46 L390.59,49.54 L391.04,49.62 L391.48,49.71 L391.93,49.79 L392.38,49.88 L392.82,49.97 L393.27,50.06 L393.71,50.15 L394.16,50.24 L394.61,50.33 L395.05,50.42 L395.50,50.52 L395.94,50.61 L396.39,50.71 L396.84,50.81 L397.28,50.91 L397.73,51.01 L398.17,51.11 L398.62,51.21 L399.06,51.31 L399.51,51.41 L399.95,51.52 L400.40,51.63 L400.84,51.73 L401.28,51.84 L401.73,51.95 L402.17,52.06 L402.62,52.17 L403.06,52.29 L403.50,52.40 L403.95,52.52 L404.39,52.63 L404.83,52.75 L405.27,52.87 L405.72,52.99 L406.16,53.11 L406.60,53.23 L407.04,53.35 L407.48,53.48 L407.92,53.60 L408.36,53.73 L408.80,53.85 L409.24,53.98 L409.68,54.11 L410.12,54.24 L410.56,54.37 L411.00,54.51 L411.44,54.64 L411.88,54.78 L412.32,54.91 L412.75,55.05 L413.19,55.19 L413.63,55.33 L414.06,55.47 L414.50,55.61 L414.94,55.76 L415.37,55.90 L415.81,56.05 L416.24,56.19 L416.68,56.34 L417.11,56.49 L417.54,56.64 L417.98,56.79 L418.41,56.94 L418.84,57.10 L419.27,57.25 L419.70,57.41 L420.14,57.56 L420.57,57.72 L421.00,57.88 L421.43,58.04 L421.85,58.21 L422.28,58.37 L422.71,58.53 L423.14,58.70 L423.57,58.86 L423.99,59.03 L424.42,59.20 L424.84,59.37 L425.27,59.54 L425.69,59.72 L426.12,59.89 L426.54,60.06 L426.96,60.24 L427.39,60.42 L427.81,60.60 L428.23,60.78 L428.65,60.96 L429.07,61.14 L429.49,61.32 L429.91,61.51 L430.33,61.69 L430.74,61.88 L431.16,62.07 L431.58,62.26 L431.99,62.45 L432.41,62.64 L432.82,62.83 L433.23,63.03 L433.65,63.22 L434.06,63.42 L434.47,63.62 L434.88,63.82 L435.29,64.02 L435.70,64.22 L436.11,64.42 L436.52,64.63 L436.93,64.83 L437.33,65.04 L437.74,65.25 L438.15,65.46 L438.55,65.67 L438.95,65.88 L439.36,66.09 L439.76,66.31 L440.16,66.52 L440.56,66.74 L440.96,66.96 L441.36,67.18 L441.76,67.40 L442.16,67.62 L442.55,67.84 L442.95,68.07 L443.35,68.30 L443.74,68.52 L444.13,68.75 L444.53,68.98 L444.92,69.21 L445.31,69.44 L445.70,69.68 L446.09,69.91 L446.48,70.15 L446.86,70.38 L447.25,70.62 L447.64,70.86 L448.02,71.10 L448.41,71.35 L448.79,71.59 L449.17,71.84 L449.55,72.08 L449.93,72.33 L450.31,72.58 L450.69,72.83 L451.07,73.08 L451.44,73.33 L451.82,73.59 L452.19,73.84 L452.57,74.10 L452.94,74.36 L453.31,74.62 L453.68,74.88 L454.05,75.14 L454.42,75.41 L454.79,75.67 L455.15,75.94 L455.52,76.20 L455.88,76.47 L456.25,76.74 L456.61,77.01 L456.97,77.29 L457.33,77.56 L457.69,77.84 L458.05,78.11 L458.41,78.39 L458.76,78.67 L459.12,78.95 L459.47,79.24 L459.82,79.52 L460.17,79.80 L460.53,80.09 L460.88,80.38 L461.22,80.67 L461.57,80.96 L461.92,81.25 L462.26,81.54 L462.61,81.83 L462.95,82.13 L463.30,82.42 L463.64,82.72 L463.98,83.02 L464.32,83.32 L464.66,83.62 L464.99,83.92 L465.33,84.22 L465.67,84.53 L466.00,84.83 L466.34,85.14 L466.67,85.45 L467.00,85.75 L467.33,86.06 L467.66,86.38 L467.99,86.69 L468.32,87.00 L468.65,87.31 L468.98,87.63 L469.30,87.94 L469.63,88.26 L469.95,88.58 L470.28,88.90 L470.60,89.22 L470.92,89.54 L471.24,89.86 L471.56,90.18 L471.88,90.51 L472.20,90.83 L472.52,91.16 L472.84,91.48 L473.15,91.81 L473.47,92.14 L473.79,92.47 L474.10,92.80 L474.41,93.13 L474.73,93.46 L475.04,93.79 L475.35,94.13 L475.66,94.46 L475.97,94.80 L476.28,95.13 L476.59,95.47 L476.89,95.81 L477.20,96.15 L477.51,96.49 L477.81,96.83 L478.12,97.17 L478.42,97.51 L478.72,97.85 L479.03,98.19 L479.33,98.54 L479.63,98.88 L479.93,99.23 L480.23,99.57 L480.53,99.92 L480.83,100.27 L481.13,100.61 L481.43,100.96 L481.72,101.31 L482.02,101.66 L482.32,102.01 L482.61,102.36 L482.91,102.71 L483.20,103.07 L483.50,103.42 L483.79,103.77 L484.08,104.13 L484.37,104.48 L484.66,104.83 L484.96,105.19 L485.25,105.55 L485.54,105.90 L485.83,106.26 L486.11,106.62 L486.40,106.98 L486.69,107.33 L486.98,107.69 L487.27,108.05 L487.55,108.41 L487.84,108.77 L488.12,109.13 L488.41,109.49 L488.69,109.86 L488.98,110.22 L489.26,110.58 L489.55,110.94 L489.83,111.31 L490.11,111.67 L490.39,112.03 L490.68,112.40 L490.96,112.76 L491.24,113.13 L491.52,113.49 L491.80,113.86 L492.08,114.22 L492.36,114.59 L492.64,114.96 L492.92,115.32 L493.20,115.69 L493.47,116.06 L493.75,116.42 L494.03,116.79 L494.31,117.16 L494.58,117.53 L494.86,117.89 L495.14,118.26 L495.41,118.63 L495.69,119.00 L495.97,119.37 L496.24,119.74 L496.52,120.11 L496.79,120.48 L497.07,120.85 L497.34,121.22 L497.61,121.58 L497.89,121.95 L498.16,122.32 L498.43,122.69 L498.71,123.06 L498.98,123.43 L499.25,123.80 L499.53,124.17 L499.80,124.54 L500.07,124.91 L500.34,125.28 L500.62,125.65 L500.89,126.02 L501.16,126.39 L501.43,126.76 L501.70,127.13 L501.97,127.50 L502.24,127.87 L502.51,128.24 L502.79,128.61 L503.06,128.98 L503.33,129.35 L503.60,129.72 L503.87,130.09 L504.14,130.46 L504.41,130.83 L504.68,131.20 L504.95,131.57 L505.22,131.94 L505.49,132.31 L505.76,132.67 L506.03,133.04 L506.30,133.41 L506.57,133.78 L506.84,134.14 L507.11,134.51 L507.38,134.88 L507.66,135.24 L507.93,135.61 L508.20,135.98 L508.47,136.34 L508.74,136.71 L509.01,137.07 L509.28,137.44 L509.56,137.80 L509.83,138.17 L510.10,138.53 L510.37,138.90 L510.65,139.26 L510.92,139.62 L511.19,139.98 L511.47,140.35 L511.74,140.71 L512.02,141.07 L512.29,141.43 L512.57,141.79 L512.85,142.15 L513.12,142.51 L513.40,142.87 L513.68,143.23 L513.96,143.59 L514.23,143.95 L514.51,144.30 L514.79,144.66 L515.07,145.02 L515.35,145.37 L515.63,145.73 L515.92,146.08 L516.20,146.44 L516.48,146.79 L516.77,147.14 L517.05,147.50 L517.34,147.85 L517.62,148.20 L517.91,148.55 L518.20,148.90 L518.48,149.25 L518.77,149.60 L519.06,149.95 L519.35,150.30 L519.64,150.64 L519.94,150.99 L520.23,151.34 L520.52,151.68 L520.82,152.03 L521.11,152.37 L521.41,152.71 L521.71,153.06 L522.00,153.40 L522.30,153.74 L522.60,154.08 L522.90,154.42 L523.21,154.76 L523.51,155.10 L523.81,155.43 L524.12,155.77 L524.42,156.10 L524.73,156.44 L525.04,156.77 L525.35,157.11 L525.66,157.44 L525.97,157.77 L526.28,158.10 L526.60,158.43 L526.91,158.76 L527.23,159.09 L527.55,159.41 L527.87,159.74 L528.18,160.07 L528.51,160.39 L528.83,160.71 L529.15,161.04 L529.48,161.36 L529.80,161.68 L530.13,161.99 L530.46,162.31 L530.79,162.63 L531.12,162.94 L531.45,163.26 L531.78,163.57 L532.12,163.88 L532.46,164.19 L532.79,164.50 L533.13,164.80 L533.47,165.11 L533.81,165.41 L534.16,165.72 L534.50,166.02 L534.84,166.32 L535.19,166.61 L535.54,166.91 L535.89,167.20 L536.24,167.50 L536.59,167.79 L536.94,168.08 L537.30,168.36 L537.65,168.65 L538.01,168.93 L538.37,169.22 L538.73,169.50 L539.09,169.77 L539.45,170.05 L539.82,170.32 L540.18,170.60 L540.55,170.87 L540.92,171.14 L541.29,171.40 L541.66,171.67 L542.03,171.93 L542.41,172.19 L542.78,172.45 L543.16,172.70 L543.54,172.96 L543.92,173.21 L544.30,173.46 L544.68,173.70 L545.07,173.95 L545.46,174.19 L545.84,174.43 L546.23,174.66 L546.62,174.90 L547.01,175.13 L547.41,175.37 L547.80,175.60 L548.19,175.82 L548.59,176.05 L548.99,176.27 L549.38,176.50 L549.78,176.72 L550.18,176.94 L550.58,177.16 L550.99,177.37 L551.39,177.59 L551.79,177.80 L552.19,178.01 L552.60,178.23 L553.00,178.44 L553.41,178.65 L553.82,178.85 L554.22,179.06 L554.63,179.27 L555.04,179.47 L555.45,179.68 L555.85,179.88 L556.26,180.09 L556.67,180.29 L557.08,180.49 L557.49,180.69 L557.90,180.89 L558.31,181.09 L558.73,181.29 L559.14,181.49 L559.55,181.68 L559.96,181.88 L560.38,182.07 L560.79,182.27 L561.20,182.46 L561.62,182.65 L562.03,182.84 L562.45,183.03 L562.86,183.22 L563.28,183.41 L563.69,183.60 L564.11,183.79 L564.53,183.97 L564.95,184.16 L565.36,184.34 L565.78,184.52 L566.20,184.70 L566.62,184.89 L567.04,185.07 L567.46,185.24 L567.88,185.42 L568.30,185.60 L568.72,185.78 L569.14,185.95 L569.57,186.12 L569.99,186.30 L570.41,186.47 L570.83,186.64 L571.26,186.81 L571.68,186.98 L572.10,187.15 L572.53,187.31 L572.95,187.48 L573.38,187.64 L573.81,187.81 L574.23,187.97 L574.66,188.13 L575.09,188.29 L575.51,188.45 L575.94,188.61 L576.37,188.76 L576.80,188.92 L577.23,189.07 L577.66,189.23 L578.09,189.38 L578.52,189.53 L578.95,189.68 L579.38,189.83 L579.81,189.98 L580.24,190.12 L580.67,190.27 L581.10,190.41 L581.54,190.56 L581.97,190.70 L582.40,190.84 L582.84,190.98 L583.27,191.12 L583.71,191.25 L584.14,191.39 L584.58,191.53 L585.01,191.66 L585.45,191.79 L585.88,191.92 L586.32,192.05 L586.76,192.18 L587.20,192.31 L587.63,192.43 L588.07,192.56 L588.51,192.68 L588.95,192.81 L589.39,192.93 L589.83,193.05 L590.27,193.16 L590.71,193.28 L591.15,193.40 L591.59,193.51 L592.03,193.63 L592.48,193.74 L592.92,193.85 L593.36,193.96 L593.80,194.06 L594.25,194.17 L594.69,194.28 L595.14,194.38 L595.58,194.48 L596.02,194.58 L596.47,194.68 L596.92,194.78 L597.36,194.88 L597.81,194.98 L598.25,195.07 L598.70,195.16 L599.15,195.25 L599.60,195.34 L600.04,195.43 L600.49,195.52 L600.94,195.61 L601.39,195.69 L601.84,195.77 L602.29,195.85 L602.74,195.93 L603.19,196.01 L603.64,196.09 L604.09,196.17 L604.54,196.24 L605.00,196.31" fill="none" stroke="#ec1c24" stroke-width="4.40" stroke-linejoin="round" stroke-linecap="butt"/>
<path d="M93.46,445.03 L94.19,444.81 L94.90,444.57 L95.61,444.33 L96.31,444.07 L97.00,443.80 L97.68,443.52 L98.35,443.22 L99.02,442.92 L99.68,442.60 L100.33,442.28 L100.97,441.94 L101.61,441.59 L102.24,441.24 L102.86,440.87 L103.47,440.49 L104.08,440.10 L104.68,439.71 L105.27,439.30 L105.86,438.89 L106.44,438.47 L107.01,438.03 L107.58,437.59 L108.14,437.15 L108.69,436.69 L109.24,436.23 L109.78,435.75 L110.32,435.28 L110.84,434.79 L111.37,434.30 L111.89,433.80 L112.40,433.29 L112.91,432.77 L113.41,432.25 L113.91,431.73 L114.40,431.20 L114.89,430.66 L115.37,430.12 L115.84,429.57 L116.32,429.01 L116.78,428.46 L117.25,427.89 L117.71,427.32 L118.16,426.75 L118.61,426.18 L119.06,425.60 L119.50,425.01 L119.94,424.42 L120.38,423.83 L120.81,423.24 L121.23,422.64 L121.66,422.04 L122.08,421.44 L122.50,420.83 L122.91,420.23 L123.32,419.62 L123.73,419.00 L124.14,418.39 L124.54,417.78 L124.94,417.16 L125.34,416.54 L125.73,415.93 L126.13,415.31 L126.52,414.69 L126.91,414.07 L127.29,413.45 L127.68,412.83 L128.06,412.21 L128.44,411.59 L128.82,410.97 L129.19,410.35 L129.57,409.73 L129.93,409.10 L130.30,408.48 L130.66,407.85 L131.02,407.22 L131.37,406.60 L131.72,405.97 L132.06,405.33 L132.40,404.70 L132.73,404.06 L133.06,403.43 L133.39,402.79 L133.70,402.14 L134.02,401.50 L134.32,400.85 L134.62,400.20 L134.92,399.55 L135.20,398.89 L135.48,398.23 L135.76,397.57 L136.02,396.90 L136.28,396.23 L136.53,395.56 L136.78,394.88 L137.01,394.20 L137.24,393.51 L137.46,392.82 L137.67,392.13 L137.87,391.43 L138.07,390.73 L138.26,390.02 L138.45,389.32 L138.63,388.61 L138.81,387.90 L138.98,387.19 L139.14,386.47 L139.31,385.75 L139.47,385.04 L139.63,384.32 L139.79,383.60 L139.94,382.88 L140.10,382.16 L140.25,381.44 L140.41,380.73 L140.56,380.01 L140.72,379.29 L140.87,378.58 L141.03,377.86 L141.19,377.15 L141.34,376.44 L141.50,375.72 L141.66,375.01 L141.82,374.30 L141.98,373.59 L142.14,372.88 L142.31,372.17 L142.47,371.46 L142.63,370.75 L142.80,370.05 L142.96,369.34 L143.13,368.63 L143.29,367.93 L143.46,367.22 L143.62,366.52 L143.79,365.81 L143.96,365.11 L144.12,364.40 L144.29,363.70 L144.46,363.00 L144.63,362.29 L144.80,361.59 L144.97,360.89 L145.14,360.18 L145.31,359.48 L145.48,358.78 L145.65,358.07 L145.82,357.37 L145.99,356.67 L146.16,355.96 L146.33,355.26 L146.51,354.56 L146.68,353.85 L146.85,353.15 L147.02,352.45 L147.20,351.74 L147.37,351.04 L147.54,350.33 L147.72,349.63 L147.89,348.92 L148.06,348.22 L148.23,347.51 L148.41,346.80 L148.58,346.10 L148.75,345.39 L148.92,344.68 L149.09,343.98 L149.26,343.27 L149.43,342.56 L149.60,341.85 L149.77,341.15 L149.94,340.44 L150.10,339.73 L150.27,339.02 L150.43,338.31 L150.60,337.60 L150.76,336.89 L150.92,336.18 L151.08,335.47 L151.24,334.76 L151.39,334.05 L151.55,333.34 L151.70,332.62 L151.85,331.91 L152.00,331.20 L152.15,330.49 L152.30,329.77 L152.44,329.06 L152.59,328.35 L152.73,327.64 L152.87,326.92 L153.00,326.21 L153.14,325.49 L153.27,324.78 L153.40,324.06 L153.53,323.35 L153.65,322.63 L153.78,321.92 L153.90,321.20 L154.02,320.49 L154.14,319.77 L154.25,319.05 L154.37,318.34 L154.48,317.62 L154.60,316.91 L154.71,316.19 L154.83,315.47 L154.94,314.76 L155.06,314.04 L155.17,313.32 L155.29,312.61 L155.41,311.89 L155.52,311.18 L155.64,310.46 L155.76,309.75 L155.89,309.03 L156.01,308.32 L156.14,307.60 L156.26,306.89 L156.40,306.17 L156.53,305.46 L156.67,304.75 L156.81,304.03 L156.95,303.32 L157.10,302.61 L157.25,301.90 L157.40,301.19 L157.55,300.48 L157.71,299.77 L157.87,299.06 L158.04,298.35 L158.20,297.64 L158.37,296.93 L158.54,296.22 L158.71,295.52 L158.89,294.81 L159.06,294.10 L159.24,293.40 L159.42,292.70 L159.61,291.99 L159.79,291.29 L159.98,290.59 L160.17,289.89 L160.36,289.19 L160.55,288.49 L160.74,287.79 L160.93,287.09 L161.13,286.39 L161.32,285.70 L161.52,285.00 L161.72,284.31 L161.92,283.61 L162.12,282.92 L162.33,282.23 L162.54,281.53 L162.75,280.84 L162.96,280.15 L163.18,279.46 L163.40,278.77 L163.63,278.08 L163.86,277.39 L164.10,276.70 L164.34,276.01 L164.58,275.32 L164.83,274.63 L165.09,273.94 L165.35,273.25 L165.62,272.57 L165.89,271.88 L166.18,271.19 L166.49,270.52 L166.82,269.86 L167.18,269.22 L167.59,268.62 L168.04,268.05 L168.55,267.52 L169.12,267.04 L169.75,266.62 L170.41,266.29 L171.09,266.04 L171.78,265.91 L172.45,265.89 L173.11,266.00 L173.75,266.22 L174.36,266.53 L174.95,266.93 L175.51,267.40 L176.04,267.94 L176.54,268.53 L177.01,269.16 L177.44,269.82 L177.83,270.50 L178.18,271.19 L178.50,271.88 L178.78,272.56 L179.03,273.25 L179.26,273.94 L179.48,274.63 L179.69,275.31 L179.90,276.00 L180.11,276.68 L180.32,277.37 L180.54,278.05 L180.76,278.73 L180.99,279.42 L181.22,280.10 L181.45,280.78 L181.69,281.46 L181.93,282.14 L182.17,282.82 L182.41,283.50 L182.66,284.18 L182.91,284.86 L183.16,285.53 L183.41,286.21 L183.67,286.89 L183.92,287.57 L184.18,288.25 L184.43,288.93 L184.69,289.61 L184.95,290.29 L185.20,290.97 L185.46,291.65 L185.72,292.33 L185.97,293.01 L186.23,293.69 L186.48,294.37 L186.74,295.05 L186.99,295.73 L187.24,296.42 L187.48,297.10 L187.73,297.79 L187.97,298.47 L188.22,299.16 L188.46,299.84 L188.70,300.53 L188.94,301.22 L189.17,301.91 L189.41,302.59 L189.64,303.28 L189.88,303.97 L190.11,304.66 L190.34,305.35 L190.57,306.04 L190.80,306.74 L191.03,307.43 L191.26,308.12 L191.48,308.81 L191.71,309.50 L191.93,310.19 L192.16,310.89 L192.38,311.58 L192.61,312.27 L192.83,312.97 L193.05,313.66 L193.28,314.35 L193.50,315.05 L193.72,315.74 L193.94,316.43 L194.17,317.13 L194.39,317.82 L194.61,318.51 L194.83,319.20 L195.05,319.90 L195.28,320.59 L195.50,321.28 L195.72,321.98 L195.95,322.67 L196.17,323.36 L196.40,324.05 L196.62,324.74 L196.85,325.43 L197.08,326.13 L197.30,326.82 L197.53,327.51 L197.76,328.20 L197.99,328.89 L198.22,329.57 L198.46,330.26 L198.69,330.95 L198.92,331.64 L199.16,332.32 L199.40,333.01 L199.64,333.70 L199.88,334.38 L200.12,335.07 L200.36,335.75 L200.60,336.43 L200.85,337.12 L201.10,337.80 L201.35,338.48 L201.60,339.16 L201.85,339.84 L202.11,340.52 L202.37,341.19 L202.63,341.87 L202.89,342.55 L203.15,343.22 L203.42,343.89 L203.69,344.57 L203.96,345.24 L204.23,345.91 L204.51,346.58 L204.78,347.25 L205.07,347.92 L205.35,348.58 L205.63,349.25 L205.92,349.91 L206.22,350.58 L206.51,351.24 L206.81,351.90 L207.11,352.56 L207.41,353.22 L207.72,353.87 L208.03,354.53 L208.34,355.18 L208.66,355.84 L208.98,356.49 L209.30,357.14 L209.62,357.79 L209.95,358.44 L210.28,359.08 L210.61,359.73 L210.95,360.37 L211.29,361.01 L211.63,361.65 L211.97,362.29 L212.32,362.93 L212.67,363.57 L213.03,364.20 L213.38,364.84 L213.74,365.47 L214.10,366.10 L214.46,366.73 L214.83,367.36 L215.20,367.99 L215.57,368.61 L215.95,369.23 L216.32,369.86 L216.70,370.48 L217.09,371.10 L217.47,371.72 L217.86,372.33 L218.25,372.95 L218.64,373.56 L219.04,374.17 L219.43,374.78 L219.83,375.39 L220.24,376.00 L220.64,376.60 L221.05,377.21 L221.46,377.81 L221.87,378.41 L222.28,379.01 L222.70,379.61 L223.12,380.21 L223.54,380.80 L223.97,381.39 L224.39,381.98 L224.82,382.57 L225.26,383.16 L225.69,383.74 L226.13,384.32 L226.58,384.90 L227.02,385.47 L227.48,386.04 L227.93,386.61 L228.39,387.18 L228.85,387.74 L229.32,388.29 L229.79,388.84 L230.27,389.39 L230.75,389.94 L231.24,390.47 L231.73,391.01 L232.22,391.54 L232.72,392.06 L233.23,392.58 L233.74,393.10 L234.26,393.61 L234.78,394.11 L235.30,394.62 L235.83,395.11 L236.37,395.60 L236.91,396.09 L237.45,396.57 L238.00,397.05 L238.55,397.52 L239.10,397.99 L239.66,398.45 L240.23,398.91 L240.79,399.37 L241.36,399.82 L241.94,400.26 L242.52,400.71 L243.10,401.14 L243.68,401.57 L244.27,402.00 L244.86,402.43 L245.46,402.84 L246.06,403.26 L246.66,403.67 L247.26,404.08 L247.87,404.48 L248.48,404.88 L249.09,405.27 L249.71,405.66 L250.32,406.04 L250.94,406.42 L251.56,406.80 L252.19,407.17 L252.82,407.54 L253.45,407.90 L254.08,408.26 L254.71,408.62 L255.34,408.97 L255.98,409.32 L256.62,409.66 L257.26,410.00 L257.91,410.34 L258.55,410.67 L259.20,411.00 L259.85,411.32 L260.50,411.64 L261.15,411.96 L261.80,412.27 L262.46,412.58 L263.12,412.89 L263.78,413.19 L264.44,413.49 L265.10,413.79 L265.77,414.08 L266.43,414.37 L267.10,414.65 L267.77,414.93 L268.44,415.21 L269.11,415.48 L269.79,415.76 L270.46,416.02 L271.14,416.29 L271.82,416.55 L272.49,416.81 L273.18,417.07 L273.86,417.32 L274.54,417.57 L275.22,417.82 L275.91,418.06 L276.60,418.30 L277.28,418.54 L277.97,418.77 L278.66,419.00 L279.35,419.23 L280.05,419.46 L280.74,419.68 L281.43,419.90 L282.13,420.12 L282.82,420.34 L283.52,420.55 L284.22,420.76 L284.91,420.97 L285.61,421.18 L286.31,421.38 L287.01,421.58 L287.72,421.78 L288.42,421.97 L289.12,422.17 L289.82,422.36 L290.53,422.55 L291.23,422.73 L291.94,422.92 L292.64,423.10 L293.35,423.28 L294.05,423.46 L294.76,423.63 L295.47,423.81 L296.18,423.98 L296.88,424.15 L297.59,424.32 L298.30,424.49 L299.01,424.65 L299.72,424.81 L300.43,424.97 L301.14,425.13 L301.85,425.29 L302.56,425.45 L303.27,425.60 L303.98,425.75 L304.69,425.90 L305.40,426.05 L306.11,426.20 L306.81,426.35 L307.52,426.49 L308.23,426.63 L308.94,426.78 L309.65,426.92 L310.36,427.06 L311.07,427.19 L311.78,427.33 L312.49,427.47 L313.20,427.60" fill="none" stroke="#2456a6" stroke-width="4.40" stroke-linejoin="round" stroke-linecap="butt"/>
<path d="M93.94,313.41 L94.13,313.08 L94.33,312.75 L94.54,312.40 L94.75,312.04 L94.97,311.67 L95.19,311.29 L95.41,310.91 L95.64,310.52 L95.88,310.12 L96.12,309.71 L96.36,309.30 L96.61,308.89 L96.87,308.47 L97.13,308.05 L97.40,307.63 L97.67,307.21 L97.94,306.78 L98.22,306.36 L98.51,305.93 L98.80,305.51 L99.10,305.09 L99.40,304.67 L99.70,304.26 L100.01,303.85 L100.33,303.44 L100.65,303.04 L100.98,302.65 L101.31,302.26 L101.64,301.88 L101.98,301.51 L102.33,301.15 L102.68,300.80 L103.04,300.46 L103.40,300.13 L103.76,299.81 L104.14,299.50 L104.51,299.21 L104.89,298.93 L105.28,298.67 L105.67,298.42 L106.07,298.18 L106.47,297.97 L106.88,297.77 L107.29,297.59 L107.70,297.43 L108.13,297.28 L108.55,297.16 L108.98,297.05 L109.41,296.95 L109.85,296.88 L110.29,296.82 L110.74,296.77 L111.19,296.74 L111.64,296.72 L112.09,296.72 L112.55,296.73 L113.00,296.75 L113.46,296.79 L113.93,296.84 L114.39,296.90 L114.85,296.97 L115.32,297.06 L115.79,297.15 L116.25,297.26 L116.72,297.37 L117.19,297.50 L117.65,297.63 L118.12,297.77 L118.59,297.92 L119.05,298.08 L119.52,298.25 L119.98,298.42 L120.45,298.60 L120.91,298.79 L121.37,298.98 L121.82,299.18 L122.28,299.38 L122.73,299.59 L123.18,299.80 L123.62,300.01 L124.07,300.23 L124.51,300.45 L124.94,300.67 L125.38,300.90 L125.80,301.13 L126.23,301.36 L126.65,301.59 L127.06,301.82 L127.47,302.05 L127.87,302.28 L128.28,302.50 L128.68,302.73 L129.07,302.95 L129.47,303.17 L129.87,303.39 L130.27,303.60 L130.68,303.81 L131.08,304.01 L131.50,304.20 L131.91,304.39 L132.34,304.57 L132.77,304.74 L133.21,304.91 L133.65,305.07 L134.09,305.24 L134.53,305.40 L134.97,305.57 L135.41,305.75 L135.85,305.93 L136.28,306.13 L136.70,306.33 L137.12,306.55 L137.53,306.79 L137.93,307.04 L138.32,307.30 L138.70,307.58 L139.08,307.86 L139.46,308.15 L139.82,308.46 L140.19,308.77 L140.54,309.09 L140.90,309.41 L141.25,309.74 L141.59,310.07 L141.93,310.41 L142.27,310.75 L142.61,311.09 L142.94,311.43 L143.27,311.78 L143.60,312.12 L143.93,312.47 L144.25,312.82 L144.57,313.18 L144.89,313.53 L145.20,313.89 L145.52,314.25 L145.83,314.61 L146.13,314.97 L146.44,315.33 L146.74,315.70 L147.04,316.07 L147.34,316.44 L147.64,316.81 L147.93,317.18 L148.22,317.55 L148.51,317.93 L148.80,318.31 L149.09,318.68 L149.37,319.06 L149.65,319.45 L149.93,319.83 L150.21,320.21 L150.48,320.60 L150.76,320.99 L151.03,321.38 L151.30,321.77 L151.57,322.16 L151.83,322.55 L152.10,322.94 L152.36,323.34 L152.62,323.73 L152.88,324.13 L153.14,324.53 L153.40,324.93 L153.65,325.33 L153.90,325.73 L154.16,326.13 L154.41,326.54 L154.66,326.94 L154.90,327.35 L155.15,327.75 L155.40,328.16 L155.64,328.57 L155.88,328.98 L156.12,329.39 L156.36,329.80 L156.60,330.21 L156.84,330.62 L157.08,331.03 L157.31,331.45 L157.55,331.86 L157.78,332.27 L158.02,332.69 L158.25,333.10 L158.48,333.52 L158.71,333.94 L158.94,334.35 L159.17,334.77 L159.40,335.19 L159.62,335.61 L159.85,336.03 L160.08,336.45 L160.30,336.86 L160.53,337.28 L160.75,337.70 L160.98,338.12 L161.20,338.54 L161.42,338.96 L161.64,339.39 L161.87,339.81 L162.09,340.23 L162.31,340.65 L162.53,341.07 L162.75,341.49 L162.97,341.91 L163.19,342.33 L163.41,342.75 L163.63,343.17 L163.85,343.59 L164.07,344.01 L164.29,344.43 L164.51,344.86 L164.73,345.28 L164.95,345.70 L165.17,346.12 L165.39,346.54 L165.61,346.96 L165.83,347.38 L166.05,347.80 L166.27,348.22 L166.48,348.64 L166.70,349.06 L166.92,349.48 L167.14,349.90 L167.36,350.32 L167.58,350.74 L167.80,351.16 L168.02,351.58 L168.24,352.00 L168.46,352.41 L168.68,352.83 L168.90,353.25 L169.12,353.67 L169.35,354.09 L169.57,354.51 L169.79,354.92 L170.01,355.34 L170.23,355.76 L170.46,356.18 L170.68,356.59 L170.90,357.01 L171.13,357.43 L171.35,357.84 L171.58,358.26 L171.80,358.67 L172.03,359.09 L172.25,359.50 L172.48,359.92 L172.71,360.33 L172.94,360.75 L173.17,361.16 L173.39,361.57 L173.62,361.99 L173.85,362.40 L174.09,362.81 L174.32,363.22 L174.55,363.64 L174.78,364.05 L175.02,364.46 L175.25,364.87 L175.49,365.28 L175.72,365.69 L175.96,366.10 L176.20,366.51 L176.43,366.92 L176.67,367.32 L176.91,367.73 L177.16,368.14 L177.40,368.55 L177.64,368.95 L177.88,369.36 L178.13,369.76 L178.37,370.17 L178.62,370.57 L178.87,370.98 L179.12,371.38 L179.37,371.78 L179.62,372.19 L179.87,372.59 L180.12,372.99 L180.38,373.39 L180.63,373.79 L180.89,374.19 L181.14,374.59 L181.40,374.99 L181.66,375.39 L181.92,375.79 L182.18,376.18 L182.45,376.58 L182.71,376.97 L182.98,377.37 L183.25,377.76 L183.51,378.16 L183.78,378.55 L184.06,378.94 L184.33,379.34 L184.60,379.73 L184.88,380.12 L185.15,380.51 L185.43,380.90 L185.71,381.29 L185.99,381.67 L186.27,382.06 L186.56,382.45 L186.84,382.83 L187.13,383.22 L187.42,383.60 L187.71,383.98 L188.00,384.36 L188.29,384.74 L188.58,385.12 L188.88,385.50 L189.17,385.88 L189.47,386.25 L189.77,386.63 L190.07,387.00 L190.37,387.37 L190.68,387.75 L190.98,388.12 L191.29,388.48 L191.60,388.85 L191.91,389.22 L192.22,389.58 L192.53,389.94 L192.84,390.31 L193.16,390.67 L193.48,391.03 L193.79,391.38 L194.11,391.74 L194.43,392.09 L194.76,392.45 L195.08,392.80 L195.41,393.15 L195.74,393.49 L196.06,393.84 L196.39,394.18 L196.73,394.53 L197.06,394.87 L197.40,395.21 L197.73,395.54 L198.07,395.88 L198.41,396.21 L198.75,396.54 L199.09,396.87 L199.44,397.20 L199.78,397.53 L200.13,397.85 L200.48,398.17 L200.83,398.49 L201.18,398.81 L201.54,399.13 L201.89,399.44 L202.25,399.75 L202.61,400.06 L202.97,400.37 L203.33,400.67 L203.70,400.98 L204.06,401.28 L204.43,401.57 L204.80,401.87 L205.17,402.16 L205.54,402.45 L205.91,402.74 L206.29,403.03 L206.66,403.31 L207.04,403.59 L207.42,403.87 L207.80,404.15 L208.19,404.42 L208.57,404.69 L208.96,404.96 L209.35,405.22 L209.74,405.49 L210.13,405.75 L210.52,406.00 L210.92,406.26 L211.32,406.51 L211.71,406.76 L212.11,407.01 L212.52,407.25 L212.92,407.50 L213.32,407.74 L213.73,407.97 L214.14,408.21 L214.54,408.44 L214.95,408.67 L215.37,408.90 L215.78,409.13 L216.19,409.35 L216.61,409.57 L217.03,409.79 L217.44,410.01 L217.86,410.22 L218.29,410.44 L218.71,410.65 L219.13,410.85 L219.56,411.06 L219.98,411.26 L220.41,411.47 L220.84,411.66 L221.27,411.86 L221.70,412.06 L222.13,412.25 L222.56,412.44 L223.00,412.63 L223.43,412.82 L223.87,413.01 L224.30,413.19 L224.74,413.37 L225.18,413.55 L225.62,413.73 L226.06,413.90 L226.50,414.08 L226.95,414.25 L227.39,414.42 L227.84,414.59 L228.28,414.76 L228.73,414.92 L229.18,415.09 L229.62,415.25 L230.07,415.41 L230.52,415.57 L230.97,415.72 L231.42,415.88 L231.88,416.03 L232.33,416.19 L232.78,416.34 L233.24,416.48 L233.69,416.63 L234.15,416.78 L234.60,416.92 L235.06,417.07 L235.52,417.21 L235.98,417.35 L236.43,417.49 L236.89,417.62 L237.35,417.76 L237.81,417.90 L238.27,418.03 L238.73,418.16 L239.20,418.29 L239.66,418.42 L240.12,418.55 L240.58,418.68 L241.05,418.80 L241.51,418.93 L241.97,419.05 L242.44,419.17 L242.90,419.29 L243.37,419.41 L243.83,419.53 L244.30,419.65 L244.76,419.77 L245.23,419.88 L245.69,420.00 L246.16,420.11 L246.63,420.23 L247.09,420.34 L247.56,420.45 L248.03,420.56 L248.49,420.67 L248.96,420.78 L249.43,420.88 L249.89,420.99 L250.36,421.10 L250.83,421.20 L251.29,421.31 L251.76,421.41 L252.23,421.51 L252.69,421.61 L253.16,421.72 L253.63,421.82 L254.09,421.92 L254.56,422.02 L255.03,422.11 L255.49,422.21 L255.96,422.31 L256.43,422.41 L256.89,422.50 L257.36,422.60 L257.82,422.69 L258.29,422.79 L258.76,422.88 L259.22,422.97 L259.69,423.06 L260.15,423.16 L260.62,423.25 L261.08,423.34 L261.55,423.43 L262.02,423.51 L262.48,423.60 L262.95,423.69 L263.41,423.78 L263.88,423.86 L264.34,423.95 L264.81,424.04 L265.28,424.12 L265.74,424.20 L266.21,424.29 L266.67,424.37 L267.14,424.45 L267.60,424.54 L268.07,424.62 L268.53,424.70 L269.00,424.78 L269.47,424.86 L269.93,424.94 L270.40,425.02 L270.86,425.10 L271.33,425.17 L271.79,425.25 L272.26,425.33 L272.73,425.40 L273.19,425.48 L273.66,425.55 L274.12,425.63 L274.59,425.70 L275.06,425.78 L275.52,425.85 L275.99,425.92 L276.45,426.00 L276.92,426.07 L277.39,426.14 L277.85,426.21 L278.32,426.28 L278.79,426.35 L279.25,426.42 L279.72,426.49 L280.19,426.56 L280.65,426.63 L281.12,426.69 L281.59,426.76 L282.05,426.83 L282.52,426.90 L282.99,426.96 L283.45,427.03 L283.92,427.09 L284.39,427.16 L284.86,427.22 L285.32,427.29 L285.79,427.35 L286.26,427.42 L286.73,427.48 L287.20,427.54 L287.67,427.61 L288.13,427.67 L288.60,427.73 L289.07,427.79 L289.54,427.85 L290.01,427.91 L290.48,427.97 L290.95,428.04 L291.42,428.10 L291.89,428.16 L292.36,428.21 L292.83,428.27 L293.30,428.33 L293.77,428.39 L294.24,428.45 L294.71,428.51 L295.18,428.57 L295.65,428.62 L296.12,428.68 L296.59,428.74 L297.06,428.79 L297.53,428.85 L298.00,428.91 L298.48,428.96 L298.95,429.02 L299.42,429.07 L299.89,429.13 L300.37,429.18 L300.84,429.24 L301.31,429.29 L301.78,429.35 L302.26,429.40 L302.73,429.46 L303.21,429.51 L303.68,429.56 L304.15,429.62 L304.63,429.67 L305.10,429.72 L305.58,429.78 L306.05,429.83 L306.53,429.88 L307.00,429.93 L307.48,429.99 L307.96,430.04 L308.43,430.09 L308.91,430.14 L309.39,430.19 L309.86,430.24 L310.34,430.30 L310.82,430.35 L311.30,430.40 L311.77,430.45 L312.25,430.50 L312.73,430.55 L313.21,430.60" fill="none" stroke="#ec1c24" stroke-width="4.40" stroke-linejoin="round" stroke-linecap="butt"/>
<path d="M386.68,447.28 L387.29,447.14 L387.90,447.01 L388.51,446.87 L389.12,446.73 L389.74,446.58 L390.35,446.43 L390.97,446.27 L391.58,446.12 L392.20,445.95 L392.81,445.79 L393.43,445.62 L394.04,445.44 L394.66,445.27 L395.28,445.08 L395.89,444.90 L396.51,444.71 L397.13,444.51 L397.74,444.32 L398.36,444.12 L398.97,443.91 L399.59,443.70 L400.20,443.49 L400.81,443.27 L401.42,443.05 L402.04,442.82 L402.65,442.59 L403.26,442.36 L403.86,442.12 L404.47,441.88 L405.08,441.64 L405.68,441.39 L406.29,441.14 L406.89,440.88 L407.49,440.62 L408.09,440.35 L408.69,440.08 L409.28,439.81 L409.88,439.53 L410.47,439.25 L411.06,438.97 L411.65,438.68 L412.23,438.38 L412.82,438.09 L413.40,437.78 L413.98,437.48 L414.56,437.17 L415.13,436.86 L415.70,436.54 L416.27,436.22 L416.84,435.89 L417.40,435.56 L417.97,435.23 L418.52,434.89 L419.08,434.55 L419.63,434.20 L420.18,433.85 L420.73,433.49 L421.27,433.13 L421.81,432.77 L422.35,432.40 L422.88,432.03 L423.41,431.66 L423.93,431.28 L424.45,430.89 L424.97,430.51 L425.49,430.11 L426.00,429.72 L426.50,429.32 L427.00,428.91 L427.50,428.50 L428.00,428.09 L428.48,427.67 L428.97,427.25 L429.45,426.83 L429.93,426.40 L430.40,425.97 L430.87,425.53 L431.34,425.09 L431.80,424.64 L432.26,424.20 L432.71,423.74 L433.16,423.29 L433.61,422.83 L434.05,422.37 L434.49,421.90 L434.92,421.43 L435.35,420.96 L435.78,420.48 L436.21,420.00 L436.63,419.52 L437.05,419.03 L437.46,418.54 L437.87,418.05 L438.28,417.56 L438.68,417.06 L439.08,416.56 L439.48,416.05 L439.88,415.55 L440.27,415.04 L440.66,414.52 L441.04,414.01 L441.42,413.49 L441.80,412.97 L442.18,412.45 L442.55,411.92 L442.92,411.39 L443.29,410.86 L443.65,410.33 L444.01,409.79 L444.37,409.25 L444.73,408.71 L445.08,408.17 L445.43,407.63 L445.78,407.08 L446.12,406.53 L446.46,405.98 L446.80,405.43 L447.14,404.87 L447.48,404.32 L447.81,403.76 L448.14,403.20 L448.47,402.64 L448.79,402.07 L449.11,401.51 L449.43,400.94 L449.75,400.37 L450.07,399.80 L450.38,399.23 L450.69,398.66 L451.00,398.08 L451.31,397.51 L451.62,396.93 L451.92,396.36 L452.22,395.78 L452.52,395.20 L452.82,394.62 L453.11,394.03 L453.41,393.45 L453.70,392.87 L453.99,392.28 L454.28,391.69 L454.56,391.11 L454.85,390.52 L455.13,389.93 L455.41,389.34 L455.69,388.75 L455.97,388.17 L456.25,387.57 L456.52,386.98 L456.80,386.39 L457.07,385.80 L457.34,385.21 L457.61,384.62 L457.88,384.02 L458.15,383.43 L458.42,382.84 L458.68,382.25 L458.94,381.65 L459.21,381.06 L459.47,380.46 L459.73,379.87 L459.99,379.28 L460.24,378.68 L460.50,378.09 L460.76,377.49 L461.01,376.89 L461.26,376.30 L461.51,375.70 L461.77,375.11 L462.02,374.51 L462.26,373.91 L462.51,373.32 L462.76,372.72 L463.00,372.12 L463.25,371.52 L463.49,370.93 L463.73,370.33 L463.98,369.73 L464.22,369.13 L464.46,368.53 L464.69,367.93 L464.93,367.33 L465.17,366.73 L465.41,366.13 L465.64,365.53 L465.88,364.93 L466.11,364.33 L466.34,363.73 L466.57,363.13 L466.80,362.53 L467.03,361.93 L467.26,361.33 L467.49,360.73 L467.72,360.13 L467.95,359.52 L468.18,358.92 L468.40,358.32 L468.63,357.72 L468.85,357.11 L469.08,356.51 L469.30,355.91 L469.52,355.30 L469.75,354.70 L469.97,354.10 L470.19,353.49 L470.41,352.89 L470.63,352.29 L470.85,351.68 L471.07,351.08 L471.29,350.47 L471.50,349.87 L471.72,349.26 L471.94,348.66 L472.16,348.05 L472.37,347.45 L472.59,346.84 L472.80,346.23 L473.02,345.63 L473.23,345.02 L473.45,344.42 L473.66,343.81 L473.88,343.20 L474.09,342.60 L474.30,341.99 L474.52,341.38 L474.73,340.78 L474.94,340.17 L475.15,339.56 L475.37,338.95 L475.58,338.35 L475.79,337.74 L476.00,337.13 L476.21,336.52 L476.42,335.91 L476.64,335.30 L476.85,334.70 L477.06,334.09 L477.27,333.48 L477.48,332.87 L477.69,332.26 L477.90,331.65 L478.11,331.04 L478.32,330.43 L478.53,329.83 L478.75,329.22 L478.96,328.61 L479.17,328.00 L479.38,327.39 L479.59,326.78 L479.80,326.17 L480.01,325.56 L480.22,324.95 L480.44,324.34 L480.65,323.73 L480.86,323.12 L481.07,322.51 L481.28,321.90 L481.50,321.28 L481.71,320.67 L481.92,320.06 L482.14,319.45 L482.35,318.84 L482.56,318.23 L482.78,317.62 L482.99,317.01 L483.21,316.40 L483.42,315.79 L483.64,315.17 L483.85,314.56 L484.07,313.95 L484.29,313.34 L484.51,312.73 L484.72,312.12 L484.94,311.51 L485.16,310.89 L485.38,310.28 L485.60,309.67 L485.82,309.06 L486.04,308.45 L486.26,307.84 L486.48,307.22 L486.71,306.61 L486.93,306.00 L487.15,305.39 L487.38,304.78 L487.60,304.16 L487.83,303.55 L488.05,302.94 L488.28,302.33 L488.51,301.72 L488.74,301.10 L488.97,300.49 L489.20,299.88 L489.43,299.27 L489.66,298.65 L489.89,298.04 L490.12,297.43 L490.36,296.82 L490.59,296.21 L490.83,295.59 L491.06,294.98 L491.30,294.37 L491.54,293.76 L491.78,293.14 L492.02,292.53 L492.26,291.92 L492.50,291.31 L492.74,290.70 L492.99,290.08 L493.23,289.47 L493.48,288.86 L493.73,288.25 L493.97,287.63 L494.22,287.02 L494.47,286.41 L494.72,285.80 L494.98,285.19 L495.23,284.57 L495.48,283.96 L495.74,283.35 L496.00,282.74 L496.26,282.14 L496.53,281.53 L496.80,280.93 L497.07,280.34 L497.35,279.75 L497.64,279.16 L497.94,278.58 L498.24,278.01 L498.55,277.45 L498.87,276.90 L499.20,276.35 L499.54,275.82 L499.89,275.30 L500.25,274.79 L500.62,274.29 L501.01,273.80 L501.41,273.33 L501.82,272.87 L502.25,272.43 L502.69,272.01 L503.15,271.60 L503.63,271.21 L504.12,270.84 L504.63,270.48 L505.16,270.15 L505.71,269.83 L506.28,269.54 L506.87,269.27 L507.47,269.03 L508.08,268.82 L508.71,268.64 L509.34,268.50 L509.98,268.40 L510.61,268.34 L511.25,268.33 L511.88,268.38 L512.50,268.47 L513.11,268.62 L513.72,268.81 L514.32,269.04 L514.91,269.31 L515.49,269.61 L516.05,269.93 L516.61,270.29 L517.16,270.66 L517.70,271.04 L518.23,271.44 L518.74,271.85 L519.25,272.27 L519.74,272.69 L520.22,273.13 L520.70,273.57 L521.16,274.02 L521.62,274.48 L522.06,274.95 L522.50,275.43 L522.93,275.91 L523.35,276.40 L523.76,276.90 L524.16,277.40 L524.56,277.91 L524.95,278.43 L525.33,278.95 L525.71,279.47 L526.07,280.01 L526.44,280.54 L526.80,281.09 L527.15,281.63 L527.50,282.18 L527.84,282.74 L528.18,283.30 L528.51,283.86 L528.84,284.42 L529.17,284.99 L529.49,285.56 L529.81,286.13 L530.12,286.71 L530.44,287.28 L530.75,287.86 L531.06,288.44 L531.37,289.02 L531.67,289.60 L531.98,290.19 L532.28,290.77 L532.59,291.35 L532.89,291.93 L533.20,292.51 L533.50,293.09 L533.81,293.67 L534.11,294.25 L534.42,294.83 L534.73,295.40 L535.04,295.98 L535.34,296.55 L535.66,297.12 L535.97,297.69 L536.28,298.26 L536.59,298.83 L536.90,299.40 L537.22,299.96 L537.53,300.53 L537.85,301.09 L538.16,301.66 L538.48,302.22 L538.80,302.78 L539.12,303.34 L539.43,303.90 L539.75,304.46 L540.07,305.02 L540.39,305.58 L540.71,306.14 L541.03,306.70 L541.35,307.25 L541.67,307.81 L542.00,308.36 L542.32,308.92 L542.64,309.48 L542.96,310.03 L543.28,310.59 L543.60,311.14 L543.93,311.70 L544.25,312.25 L544.57,312.80 L544.89,313.36 L545.22,313.91 L545.54,314.47 L545.86,315.02 L546.18,315.58 L546.51,316.13 L546.83,316.69 L547.15,317.24 L547.47,317.80 L547.79,318.35 L548.12,318.91 L548.44,319.46 L548.76,320.02 L549.08,320.58 L549.40,321.14 L549.72,321.70 L550.04,322.26 L550.36,322.81 L550.67,323.38 L550.99,323.94 L551.31,324.50 L551.63,325.06 L551.94,325.62 L552.26,326.19 L552.57,326.75 L552.89,327.32 L553.20,327.88 L553.52,328.45 L553.83,329.02 L554.15,329.58 L554.46,330.15 L554.78,330.72 L555.09,331.29 L555.41,331.85 L555.72,332.42 L556.04,332.99 L556.35,333.56 L556.66,334.13 L556.98,334.70 L557.30,335.26 L557.61,335.83 L557.93,336.40 L558.24,336.97 L558.56,337.54 L558.88,338.11 L559.19,338.67 L559.51,339.24 L559.83,339.81 L560.15,340.38 L560.47,340.94 L560.79,341.51 L561.11,342.07 L561.43,342.64 L561.76,343.20 L562.08,343.77 L562.41,344.33 L562.73,344.89 L563.06,345.46 L563.39,346.02 L563.71,346.58 L564.04,347.14 L564.37,347.70 L564.71,348.25 L565.04,348.81 L565.37,349.37 L565.71,349.92 L566.05,350.48 L566.38,351.03 L566.72,351.58 L567.07,352.13 L567.41,352.68 L567.75,353.23 L568.10,353.78 L568.45,354.32 L568.79,354.87 L569.14,355.41 L569.50,355.95 L569.85,356.49 L570.21,357.03 L570.56,357.57 L570.92,358.10 L571.29,358.64 L571.65,359.17 L572.01,359.70 L572.38,360.23 L572.75,360.76 L573.12,361.28 L573.50,361.81 L573.87,362.33 L574.25,362.85 L574.63,363.36 L575.01,363.88 L575.40,364.39 L575.79,364.91 L576.18,365.42 L576.57,365.92 L576.96,366.43 L577.36,366.93 L577.76,367.43 L578.16,367.93 L578.57,368.43 L578.98,368.92 L579.39,369.41 L579.80,369.90 L580.22,370.38 L580.64,370.87 L581.06,371.35 L581.48,371.83 L581.91,372.30 L582.34,372.78 L582.78,373.25 L583.22,373.71 L583.66,374.18 L584.10,374.64 L584.55,375.10 L585.00,375.56 L585.45,376.01 L585.91,376.46 L586.37,376.91 L586.83,377.35 L587.30,377.79 L587.77,378.23 L588.24,378.66 L588.72,379.10 L589.20,379.52 L589.68,379.95 L590.17,380.37 L590.67,380.79 L591.16,381.20 L591.66,381.61 L592.17,382.02 L592.67,382.43 L593.18,382.83 L593.70,383.22 L594.22,383.62 L594.74,384.01 L595.27,384.39 L595.80,384.77 L596.34,385.15 L596.88,385.53 L597.42,385.90 L597.97,386.26 L598.52,386.63 L599.08,386.98 L599.64,387.34 L600.21,387.69 L600.78,388.04 L601.36,388.38 L601.94,388.72 L602.52,389.05 L603.11,389.38 L603.70,389.70 L604.30,390.03 L604.90,390.34 L605.51,390.65" fill="none" stroke="#2456a6" stroke-width="4.40" stroke-linejoin="round" stroke-linecap="butt"/>
<path d="M386.85,305.12 L387.09,304.75 L387.33,304.38 L387.57,304.00 L387.82,303.62 L388.06,303.23 L388.31,302.85 L388.56,302.46 L388.81,302.07 L389.06,301.68 L389.31,301.28 L389.56,300.89 L389.82,300.50 L390.08,300.10 L390.34,299.71 L390.60,299.31 L390.87,298.92 L391.14,298.53 L391.41,298.14 L391.68,297.75 L391.95,297.37 L392.23,296.98 L392.51,296.60 L392.80,296.22 L393.08,295.85 L393.37,295.48 L393.67,295.11 L393.96,294.75 L394.27,294.39 L394.57,294.04 L394.88,293.69 L395.19,293.35 L395.51,293.01 L395.83,292.68 L396.15,292.36 L396.48,292.05 L396.81,291.74 L397.15,291.44 L397.49,291.14 L397.84,290.86 L398.19,290.58 L398.54,290.31 L398.90,290.05 L399.26,289.79 L399.63,289.54 L400.00,289.30 L400.37,289.07 L400.75,288.84 L401.13,288.62 L401.52,288.40 L401.91,288.20 L402.30,288.00 L402.69,287.81 L403.09,287.62 L403.49,287.44 L403.90,287.27 L404.30,287.10 L404.71,286.94 L405.13,286.79 L405.54,286.64 L405.96,286.50 L406.38,286.36 L406.80,286.23 L407.23,286.11 L407.66,286.00 L408.09,285.89 L408.52,285.78 L408.95,285.68 L409.39,285.59 L409.82,285.50 L410.26,285.42 L410.70,285.34 L411.15,285.27 L411.59,285.21 L412.04,285.15 L412.48,285.10 L412.93,285.05 L413.38,285.00 L413.83,284.97 L414.28,284.93 L414.73,284.90 L415.19,284.88 L415.64,284.86 L416.09,284.85 L416.55,284.84 L417.00,284.84 L417.46,284.84 L417.91,284.85 L418.37,284.86 L418.83,284.87 L419.28,284.89 L419.74,284.91 L420.19,284.94 L420.65,284.97 L421.10,285.01 L421.56,285.05 L422.01,285.10 L422.47,285.15 L422.92,285.20 L423.37,285.26 L423.83,285.32 L424.28,285.38 L424.73,285.45 L425.18,285.52 L425.63,285.60 L426.07,285.68 L426.52,285.76 L426.97,285.85 L427.41,285.94 L427.86,286.03 L428.30,286.13 L428.74,286.23 L429.19,286.33 L429.63,286.44 L430.07,286.55 L430.51,286.67 L430.95,286.78 L431.38,286.90 L431.82,287.03 L432.26,287.15 L432.69,287.28 L433.13,287.42 L433.56,287.55 L433.99,287.69 L434.43,287.84 L434.86,287.98 L435.29,288.13 L435.72,288.28 L436.15,288.43 L436.58,288.59 L437.00,288.75 L437.43,288.91 L437.86,289.08 L438.28,289.24 L438.70,289.41 L439.13,289.59 L439.55,289.76 L439.97,289.94 L440.39,290.12 L440.81,290.30 L441.23,290.49 L441.65,290.67 L442.07,290.86 L442.49,291.06 L442.90,291.25 L443.32,291.45 L443.73,291.64 L444.15,291.85 L444.56,292.05 L444.97,292.25 L445.38,292.46 L445.79,292.67 L446.20,292.88 L446.61,293.09 L447.02,293.31 L447.43,293.52 L447.83,293.74 L448.24,293.96 L448.64,294.18 L449.05,294.41 L449.45,294.63 L449.85,294.86 L450.26,295.09 L450.66,295.32 L451.06,295.55 L451.46,295.78 L451.85,296.01 L452.25,296.25 L452.65,296.49 L453.05,296.72 L453.44,296.96 L453.84,297.20 L454.23,297.45 L454.62,297.69 L455.01,297.93 L455.41,298.18 L455.80,298.43 L456.19,298.67 L456.58,298.92 L456.96,299.17 L457.35,299.42 L457.74,299.67 L458.12,299.93 L458.51,300.18 L458.89,300.43 L459.28,300.69 L459.66,300.94 L460.04,301.20 L460.42,301.46 L460.80,301.71 L461.18,301.97 L461.56,302.23 L461.94,302.49 L462.32,302.75 L462.69,303.01 L463.07,303.27 L463.44,303.54 L463.82,303.80 L464.19,304.07 L464.56,304.33 L464.93,304.60 L465.31,304.86 L465.68,305.13 L466.04,305.40 L466.41,305.67 L466.78,305.94 L467.15,306.21 L467.51,306.48 L467.88,306.76 L468.24,307.03 L468.60,307.30 L468.96,307.58 L469.32,307.86 L469.68,308.13 L470.04,308.41 L470.40,308.69 L470.76,308.97 L471.12,309.25 L471.47,309.53 L471.83,309.81 L472.18,310.10 L472.53,310.38 L472.89,310.67 L473.24,310.95 L473.59,311.24 L473.94,311.53 L474.28,311.82 L474.63,312.11 L474.98,312.40 L475.32,312.69 L475.67,312.98 L476.01,313.28 L476.35,313.57 L476.69,313.87 L477.03,314.16 L477.37,314.46 L477.71,314.76 L478.05,315.06 L478.39,315.36 L478.72,315.66 L479.06,315.96 L479.39,316.27 L479.72,316.57 L480.05,316.88 L480.38,317.18 L480.71,317.49 L481.04,317.80 L481.37,318.11 L481.69,318.42 L482.02,318.73 L482.34,319.05 L482.67,319.36 L482.99,319.68 L483.31,319.99 L483.63,320.31 L483.95,320.63 L484.27,320.95 L484.58,321.27 L484.90,321.59 L485.21,321.91 L485.53,322.23 L485.84,322.56 L486.15,322.89 L486.46,323.21 L486.77,323.54 L487.08,323.87 L487.39,324.20 L487.69,324.53 L488.00,324.87 L488.30,325.20 L488.60,325.54 L488.90,325.87 L489.20,326.21 L489.50,326.55 L489.80,326.89 L490.10,327.23 L490.39,327.57 L490.69,327.91 L490.98,328.26 L491.27,328.61 L491.57,328.95 L491.86,329.30 L492.15,329.65 L492.43,330.00 L492.72,330.35 L493.01,330.70 L493.29,331.05 L493.58,331.41 L493.86,331.76 L494.15,332.12 L494.43,332.47 L494.71,332.83 L494.99,333.19 L495.27,333.55 L495.55,333.91 L495.83,334.27 L496.11,334.63 L496.38,334.99 L496.66,335.35 L496.94,335.71 L497.21,336.08 L497.49,336.44 L497.76,336.81 L498.03,337.17 L498.31,337.54 L498.58,337.90 L498.85,338.27 L499.13,338.64 L499.40,339.00 L499.67,339.37 L499.94,339.74 L500.21,340.11 L500.48,340.48 L500.75,340.85 L501.02,341.22 L501.29,341.59 L501.56,341.96 L501.83,342.33 L502.10,342.70 L502.37,343.07 L502.64,343.44 L502.91,343.81 L503.18,344.18 L503.45,344.55 L503.72,344.93 L503.99,345.30 L504.25,345.67 L504.52,346.04 L504.79,346.41 L505.06,346.78 L505.33,347.15 L505.60,347.52 L505.87,347.90 L506.14,348.27 L506.41,348.64 L506.68,349.01 L506.95,349.38 L507.22,349.75 L507.50,350.12 L507.77,350.49 L508.04,350.86 L508.31,351.22 L508.59,351.59 L508.86,351.96 L509.13,352.33 L509.41,352.70 L509.68,353.06 L509.96,353.43 L510.24,353.79 L510.51,354.16 L510.79,354.52 L511.07,354.89 L511.35,355.25 L511.63,355.62 L511.91,355.98 L512.19,356.34 L512.47,356.70 L512.75,357.06 L513.03,357.42 L513.32,357.78 L513.60,358.14 L513.89,358.49 L514.17,358.85 L514.46,359.21 L514.75,359.56 L515.04,359.91 L515.33,360.27 L515.62,360.62 L515.91,360.97 L516.21,361.32 L516.50,361.67 L516.80,362.02 L517.09,362.36 L517.39,362.71 L517.69,363.05 L517.99,363.40 L518.29,363.74 L518.59,364.08 L518.90,364.42 L519.20,364.76 L519.51,365.10 L519.81,365.44 L520.12,365.78 L520.43,366.11 L520.74,366.45 L521.05,366.78 L521.36,367.11 L521.67,367.44 L521.99,367.77 L522.30,368.10 L522.62,368.43 L522.93,368.76 L523.25,369.09 L523.57,369.41 L523.89,369.74 L524.21,370.06 L524.53,370.38 L524.85,370.70 L525.18,371.02 L525.50,371.34 L525.83,371.66 L526.15,371.97 L526.48,372.29 L526.81,372.60 L527.14,372.92 L527.47,373.23 L527.80,373.54 L528.14,373.85 L528.47,374.16 L528.80,374.47 L529.14,374.77 L529.48,375.08 L529.81,375.38 L530.15,375.69 L530.49,375.99 L530.83,376.29 L531.17,376.59 L531.52,376.89 L531.86,377.19 L532.20,377.48 L532.55,377.78 L532.89,378.07 L533.24,378.37 L533.59,378.66 L533.94,378.95 L534.29,379.24 L534.64,379.53 L534.99,379.82 L535.34,380.10 L535.70,380.39 L536.05,380.67 L536.41,380.96 L536.76,381.24 L537.12,381.52 L537.48,381.80 L537.84,382.08 L538.20,382.35 L538.56,382.63 L538.92,382.91 L539.28,383.18 L539.65,383.45 L540.01,383.72 L540.38,383.99 L540.74,384.26 L541.11,384.53 L541.48,384.80 L541.85,385.06 L542.22,385.33 L542.59,385.59 L542.96,385.85 L543.33,386.11 L543.70,386.37 L544.08,386.63 L544.45,386.89 L544.83,387.14 L545.20,387.40 L545.58,387.65 L545.96,387.90 L546.34,388.15 L546.72,388.40 L547.10,388.65 L547.48,388.90 L547.87,389.15 L548.25,389.39 L548.63,389.63 L549.02,389.88 L549.40,390.12 L549.79,390.36 L550.18,390.60 L550.56,390.84 L550.95,391.07 L551.34,391.31 L551.73,391.54 L552.12,391.78 L552.52,392.01 L552.91,392.24 L553.30,392.47 L553.69,392.70 L554.09,392.93 L554.48,393.16 L554.88,393.38 L555.27,393.61 L555.67,393.83 L556.07,394.06 L556.47,394.28 L556.87,394.50 L557.26,394.72 L557.66,394.94 L558.06,395.16 L558.47,395.37 L558.87,395.59 L559.27,395.81 L559.67,396.02 L560.07,396.24 L560.48,396.45 L560.88,396.66 L561.29,396.87 L561.69,397.08 L562.10,397.29 L562.50,397.50 L562.91,397.71 L563.32,397.92 L563.72,398.12 L564.13,398.33 L564.54,398.53 L564.95,398.74 L565.36,398.94 L565.77,399.14 L566.18,399.34 L566.59,399.54 L567.00,399.74 L567.41,399.94 L567.82,400.14 L568.23,400.34 L568.64,400.54 L569.05,400.73 L569.47,400.93 L569.88,401.12 L570.29,401.32 L570.71,401.51 L571.12,401.70 L571.53,401.90 L571.95,402.09 L572.36,402.28 L572.78,402.47 L573.19,402.66 L573.61,402.85 L574.02,403.04 L574.44,403.23 L574.85,403.42 L575.27,403.60 L575.68,403.79 L576.10,403.98 L576.52,404.16 L576.93,404.35 L577.35,404.53 L577.77,404.71 L578.18,404.90 L578.60,405.08 L579.02,405.26 L579.43,405.44 L579.85,405.63 L580.27,405.81 L580.69,405.99 L581.10,406.16 L581.52,406.34 L581.94,406.52 L582.36,406.69 L582.78,406.87 L583.20,407.04 L583.62,407.21 L584.04,407.38 L584.46,407.55 L584.88,407.72 L585.31,407.88 L585.73,408.04 L586.15,408.21 L586.58,408.37 L587.00,408.53 L587.43,408.68 L587.85,408.84 L588.28,408.99 L588.70,409.14 L589.13,409.29 L589.56,409.44 L589.99,409.58 L590.42,409.72 L590.85,409.86 L591.28,410.00 L591.71,410.13 L592.15,410.27 L592.58,410.40 L593.02,410.52 L593.45,410.65 L593.89,410.77 L594.33,410.89 L594.77,411.00 L595.21,411.11 L595.65,411.22 L596.09,411.33 L596.53,411.43 L596.98,411.53 L597.42,411.63 L597.87,411.72 L598.32,411.81 L598.77,411.90 L599.22,411.98 L599.67,412.06 L600.12,412.14 L600.58,412.21 L601.03,412.27 L601.49,412.34 L601.95,412.40 L602.41,412.46 L602.87,412.51 L603.33,412.56 L603.80,412.60 L604.26,412.64 L604.73,412.67 L605.20,412.70" fill="none" stroke="#ec1c24" stroke-width="4.40" stroke-linejoin="round" stroke-linecap="butt"/>
<path d="M93.48,601.66 L94.17,601.68 L94.85,601.69 L95.53,601.69 L96.22,601.69 L96.90,601.69 L97.58,601.69 L98.26,601.68 L98.95,601.67 L99.63,601.66 L100.31,601.64 L100.99,601.63 L101.67,601.60 L102.35,601.58 L103.03,601.56 L103.70,601.53 L104.38,601.50 L105.06,601.46 L105.74,601.43 L106.42,601.39 L107.09,601.35 L107.77,601.31 L108.45,601.27 L109.13,601.23 L109.80,601.19 L110.48,601.14 L111.16,601.09 L111.83,601.05 L112.51,601.00 L113.19,600.95 L113.86,600.90 L114.54,600.85 L115.22,600.79 L115.90,600.74 L116.57,600.69 L117.25,600.64 L117.93,600.59 L118.61,600.53 L119.28,600.48 L119.96,600.43 L120.64,600.38 L121.32,600.33 L122.00,600.27 L122.68,600.22 L123.36,600.17 L124.04,600.12 L124.71,600.06 L125.39,600.01 L126.07,599.95 L126.75,599.90 L127.43,599.84 L128.11,599.77 L128.79,599.71 L129.46,599.64 L130.14,599.57 L130.82,599.49 L131.49,599.42 L132.17,599.33 L132.84,599.25 L133.51,599.15 L134.18,599.06 L134.86,598.96 L135.53,598.85 L136.19,598.73 L136.86,598.61 L137.53,598.49 L138.19,598.36 L138.86,598.22 L139.52,598.07 L140.18,597.91 L140.84,597.75 L141.49,597.58 L142.15,597.40 L142.80,597.21 L143.45,597.02 L144.10,596.81 L144.75,596.59 L145.40,596.37 L146.04,596.13 L146.68,595.88 L147.31,595.63 L147.94,595.36 L148.56,595.07 L149.18,594.77 L149.78,594.46 L150.37,594.13 L150.95,593.79 L151.51,593.43 L152.06,593.05 L152.60,592.66 L153.11,592.24 L153.61,591.81 L154.08,591.35 L154.54,590.88 L154.97,590.38 L155.38,589.87 L155.77,589.33 L156.14,588.78 L156.49,588.21 L156.82,587.63 L157.14,587.03 L157.44,586.42 L157.72,585.80 L157.98,585.16 L158.24,584.52 L158.48,583.87 L158.71,583.22 L158.92,582.56 L159.13,581.89 L159.32,581.23 L159.51,580.56 L159.69,579.89 L159.86,579.22 L160.02,578.55 L160.18,577.88 L160.33,577.21 L160.47,576.54 L160.61,575.87 L160.74,575.20 L160.86,574.53 L160.98,573.86 L161.09,573.19 L161.19,572.52 L161.29,571.85 L161.39,571.18 L161.48,570.51 L161.57,569.83 L161.65,569.16 L161.73,568.49 L161.81,567.82 L161.88,567.15 L161.94,566.47 L162.01,565.80 L162.07,565.13 L162.13,564.45 L162.19,563.78 L162.24,563.11 L162.30,562.43 L162.35,561.76 L162.40,561.08 L162.45,560.41 L162.50,559.73 L162.55,559.06 L162.59,558.38 L162.64,557.71 L162.69,557.03 L162.73,556.36 L162.78,555.68 L162.83,555.00 L162.88,554.33 L162.93,553.65 L162.99,552.97 L163.04,552.30 L163.09,551.62 L163.15,550.94 L163.20,550.27 L163.26,549.59 L163.32,548.91 L163.37,548.23 L163.43,547.55 L163.49,546.88 L163.55,546.20 L163.61,545.52 L163.67,544.84 L163.73,544.16 L163.78,543.48 L163.84,542.81 L163.90,542.13 L163.96,541.45 L164.02,540.77 L164.08,540.09 L164.14,539.41 L164.20,538.73 L164.26,538.05 L164.32,537.37 L164.38,536.69 L164.43,536.01 L164.49,535.34 L164.55,534.66 L164.60,533.98 L164.65,533.30 L164.71,532.62 L164.76,531.94 L164.81,531.26 L164.86,530.58 L164.91,529.90 L164.96,529.22 L165.01,528.55 L165.05,527.87 L165.10,527.19 L165.14,526.51 L165.19,525.83 L165.23,525.15 L165.27,524.47 L165.31,523.80 L165.35,523.12 L165.39,522.44 L165.43,521.76 L165.46,521.08 L165.50,520.40 L165.54,519.73 L165.58,519.05 L165.61,518.37 L165.65,517.69 L165.68,517.01 L165.72,516.34 L165.76,515.66 L165.79,514.98 L165.83,514.30 L165.87,513.63 L165.91,512.95 L165.94,512.27 L165.98,511.59 L166.02,510.91 L166.06,510.24 L166.10,509.56 L166.14,508.88 L166.18,508.20 L166.22,507.53 L166.27,506.85 L166.31,506.17 L166.36,505.49 L166.40,504.81 L166.45,504.14 L166.50,503.46 L166.55,502.78 L166.60,502.10 L166.65,501.43 L166.71,500.75 L166.76,500.07 L166.82,499.39 L166.88,498.72 L166.94,498.04 L167.00,497.36 L167.06,496.68 L167.12,496.01 L167.18,495.33 L167.25,494.65 L167.32,493.96 L167.40,493.28 L167.49,492.58 L167.60,491.87 L167.72,491.16 L167.86,490.43 L168.02,489.73 L168.20,489.12 L168.39,488.67 L168.60,488.43 L168.83,488.48 L169.06,488.80 L169.29,489.30 L169.50,489.90 L169.67,490.53 L169.80,491.18 L169.92,491.84 L170.01,492.51 L170.08,493.20 L170.14,493.89 L170.20,494.58 L170.25,495.27 L170.30,495.96 L170.35,496.65 L170.41,497.34 L170.46,498.03 L170.51,498.71 L170.56,499.40 L170.61,500.08 L170.66,500.77 L170.71,501.45 L170.76,502.13 L170.81,502.82 L170.86,503.50 L170.91,504.18 L170.95,504.86 L171.00,505.54 L171.05,506.22 L171.10,506.90 L171.14,507.58 L171.19,508.26 L171.23,508.93 L171.28,509.61 L171.33,510.29 L171.37,510.96 L171.42,511.64 L171.46,512.32 L171.50,512.99 L171.55,513.67 L171.59,514.35 L171.63,515.02 L171.68,515.70 L171.72,516.37 L171.76,517.05 L171.81,517.72 L171.85,518.40 L171.89,519.08 L171.93,519.75 L171.97,520.43 L172.01,521.10 L172.05,521.78 L172.09,522.46 L172.13,523.14 L172.17,523.81 L172.21,524.49 L172.25,525.17 L172.29,525.85 L172.33,526.52 L172.37,527.20 L172.41,527.88 L172.45,528.56 L172.49,529.24 L172.53,529.92 L172.57,530.60 L172.61,531.27 L172.65,531.95 L172.69,532.63 L172.73,533.31 L172.77,533.99 L172.81,534.67 L172.85,535.35 L172.89,536.03 L172.93,536.71 L172.97,537.39 L173.02,538.07 L173.06,538.75 L173.10,539.43 L173.14,540.11 L173.19,540.79 L173.23,541.47 L173.27,542.15 L173.32,542.83 L173.36,543.51 L173.41,544.19 L173.45,544.87 L173.50,545.54 L173.54,546.22 L173.59,546.90 L173.64,547.58 L173.69,548.26 L173.74,548.94 L173.79,549.62 L173.84,550.30 L173.89,550.98 L173.94,551.66 L173.99,552.34 L174.05,553.01 L174.10,553.69 L174.15,554.37 L174.21,555.05 L174.27,555.73 L174.32,556.40 L174.38,557.08 L174.44,557.76 L174.50,558.44 L174.56,559.11 L174.62,559.79 L174.69,560.47 L174.75,561.14 L174.82,561.82 L174.88,562.49 L174.95,563.17 L175.02,563.84 L175.09,564.52 L175.16,565.19 L175.23,565.87 L175.30,566.54 L175.38,567.22 L175.45,567.89 L175.53,568.56 L175.61,569.24 L175.69,569.91 L175.77,570.58 L175.85,571.25 L175.93,571.93 L176.02,572.60 L176.11,573.27 L176.20,573.94 L176.29,574.61 L176.39,575.28 L176.50,575.95 L176.61,576.61 L176.72,577.28 L176.84,577.95 L176.97,578.62 L177.10,579.28 L177.25,579.95 L177.40,580.61 L177.55,581.27 L177.72,581.94 L177.90,582.60 L178.09,583.26 L178.28,583.92 L178.49,584.58 L178.71,585.23 L178.95,585.88 L179.19,586.52 L179.46,587.16 L179.73,587.79 L180.02,588.41 L180.33,589.01 L180.65,589.61 L180.99,590.19 L181.34,590.76 L181.72,591.32 L182.11,591.86 L182.52,592.38 L182.96,592.88 L183.41,593.37 L183.88,593.83 L184.38,594.28 L184.89,594.70 L185.42,595.11 L185.96,595.50 L186.52,595.87 L187.10,596.22 L187.68,596.56 L188.28,596.87 L188.89,597.17 L189.51,597.46 L190.13,597.73 L190.77,597.98 L191.41,598.22 L192.06,598.44 L192.71,598.65 L193.37,598.85 L194.03,599.04 L194.69,599.21 L195.35,599.37 L196.01,599.52 L196.68,599.66 L197.35,599.79 L198.02,599.91 L198.69,600.03 L199.36,600.13 L200.03,600.23 L200.70,600.32 L201.37,600.41 L202.05,600.48 L202.72,600.56 L203.40,600.63 L204.07,600.69 L204.75,600.75 L205.43,600.81 L206.10,600.86 L206.78,600.92 L207.46,600.97 L208.13,601.02 L208.81,601.07 L209.49,601.12 L210.17,601.16 L210.84,601.21 L211.52,601.25 L212.20,601.29 L212.88,601.33 L213.55,601.37 L214.23,601.41 L214.91,601.44 L215.59,601.48 L216.27,601.51 L216.94,601.54 L217.62,601.57 L218.30,601.60 L218.98,601.63 L219.66,601.65 L220.34,601.68 L221.02,601.71 L221.69,601.73 L222.37,601.75 L223.05,601.77 L223.73,601.79 L224.41,601.81 L225.09,601.83 L225.77,601.85 L226.45,601.86 L227.13,601.88 L227.81,601.89 L228.49,601.91 L229.17,601.92 L229.85,601.93 L230.53,601.95 L231.21,601.96 L231.89,601.97 L232.57,601.98 L233.25,601.98 L233.93,601.99 L234.61,602.00 L235.29,602.01 L235.97,602.01 L236.65,602.02 L237.33,602.02 L238.01,602.03 L238.69,602.03 L239.37,602.03 L240.05,602.04 L240.73,602.04 L241.41,602.04 L242.09,602.04 L242.77,602.05 L243.45,602.05 L244.13,602.05 L244.81,602.05 L245.49,602.05 L246.17,602.05 L246.85,602.05 L247.53,602.05 L248.21,602.05 L248.89,602.05 L249.57,602.05 L250.25,602.05 L250.93,602.05 L251.61,602.05 L252.29,602.05 L252.97,602.05 L253.65,602.05 L254.33,602.05 L255.01,602.05 L255.69,602.05 L256.37,602.05 L257.05,602.05 L257.73,602.05 L258.42,602.05 L259.10,602.06 L259.78,602.06 L260.46,602.06 L261.14,602.06 L261.82,602.06 L262.50,602.07 L263.17,602.07 L263.85,602.07 L264.53,602.08 L265.21,602.08 L265.89,602.08 L266.57,602.09 L267.25,602.09 L267.93,602.10 L268.61,602.10 L269.29,602.11 L269.97,602.11 L270.65,602.12 L271.33,602.12 L272.01,602.13 L272.69,602.13 L273.37,602.14 L274.05,602.15 L274.73,602.15 L275.41,602.16 L276.09,602.16 L276.77,602.17 L277.45,602.18 L278.13,602.18 L278.81,602.19 L279.49,602.20 L280.17,602.20 L280.85,602.21 L281.53,602.21 L282.21,602.22 L282.88,602.23 L283.56,602.23 L284.24,602.24 L284.92,602.25 L285.60,602.25 L286.28,602.26 L286.96,602.26 L287.64,602.27 L288.32,602.28 L289.00,602.28 L289.68,602.29 L290.36,602.29 L291.04,602.30 L291.72,602.30 L292.40,602.31 L293.08,602.31 L293.76,602.32 L294.44,602.32 L295.12,602.33 L295.80,602.33 L296.48,602.34 L297.16,602.34 L297.84,602.34 L298.52,602.35 L299.20,602.35 L299.88,602.35 L300.56,602.36 L301.24,602.36 L301.92,602.36 L302.60,602.36 L303.28,602.36 L303.96,602.37 L304.64,602.37 L305.32,602.37 L306.00,602.37 L306.68,602.37 L307.36,602.37 L308.04,602.37 L308.72,602.36 L309.40,602.36 L310.08,602.36 L310.76,602.36 L311.44,602.36 L312.13,602.35 L312.81,602.35" fill="none" stroke="#f07f22" stroke-width="4.40" stroke-linejoin="round" stroke-linecap="butt"/>
<path d="M93.72,600.82 L94.30,600.64 L94.89,600.47 L95.47,600.30 L96.06,600.14 L96.65,599.99 L97.25,599.83 L97.85,599.68 L98.45,599.54 L99.05,599.40 L99.66,599.26 L100.26,599.12 L100.87,598.99 L101.49,598.86 L102.10,598.74 L102.72,598.61 L103.33,598.49 L103.95,598.38 L104.58,598.26 L105.20,598.15 L105.82,598.03 L106.45,597.92 L107.08,597.81 L107.70,597.71 L108.33,597.60 L108.96,597.49 L109.59,597.39 L110.22,597.28 L110.86,597.18 L111.49,597.07 L112.12,596.97 L112.76,596.86 L113.39,596.76 L114.02,596.65 L114.66,596.55 L115.29,596.44 L115.93,596.33 L116.56,596.22 L117.19,596.11 L117.82,596.00 L118.46,595.88 L119.09,595.77 L119.72,595.65 L120.35,595.53 L120.98,595.40 L121.61,595.28 L122.23,595.15 L122.86,595.01 L123.48,594.88 L124.10,594.74 L124.72,594.60 L125.34,594.45 L125.96,594.30 L126.58,594.14 L127.19,593.99 L127.80,593.82 L128.41,593.65 L129.02,593.48 L129.62,593.30 L130.23,593.12 L130.82,592.93 L131.42,592.74 L132.02,592.54 L132.61,592.33 L133.20,592.12 L133.78,591.90 L134.36,591.67 L134.94,591.44 L135.52,591.20 L136.09,590.96 L136.66,590.70 L137.22,590.44 L137.78,590.18 L138.34,589.90 L138.89,589.62 L139.44,589.33 L139.99,589.03 L140.53,588.72 L141.07,588.40 L141.60,588.08 L142.13,587.74 L142.65,587.40 L143.17,587.05 L143.68,586.68 L144.19,586.31 L144.69,585.94 L145.19,585.55 L145.68,585.16 L146.17,584.75 L146.65,584.34 L147.12,583.93 L147.59,583.50 L148.05,583.07 L148.51,582.63 L148.96,582.18 L149.40,581.73 L149.84,581.27 L150.27,580.80 L150.70,580.33 L151.12,579.85 L151.53,579.37 L151.93,578.87 L152.33,578.38 L152.71,577.87 L153.10,577.36 L153.47,576.85 L153.84,576.33 L154.19,575.80 L154.54,575.27 L154.89,574.74 L155.22,574.20 L155.55,573.66 L155.86,573.11 L156.17,572.55 L156.47,572.00 L156.76,571.44 L157.04,570.87 L157.32,570.30 L157.58,569.73 L157.84,569.15 L158.09,568.57 L158.33,567.99 L158.56,567.41 L158.79,566.82 L159.01,566.23 L159.22,565.63 L159.43,565.03 L159.63,564.43 L159.83,563.83 L160.02,563.23 L160.21,562.62 L160.40,562.01 L160.58,561.40 L160.76,560.79 L160.93,560.18 L161.10,559.56 L161.28,558.95 L161.45,558.32 L161.63,557.70 L161.82,557.07 L162.02,556.43 L162.22,555.79 L162.45,555.14 L162.68,554.49 L162.93,553.88 L163.18,553.32 L163.44,552.84 L163.71,552.47 L163.97,552.24 L164.23,552.17 L164.48,552.27 L164.72,552.52 L164.96,552.91 L165.18,553.40 L165.39,553.97 L165.59,554.61 L165.76,555.28 L165.92,555.98 L166.06,556.67 L166.18,557.34 L166.28,558.00 L166.36,558.65 L166.43,559.29 L166.49,559.93 L166.54,560.55 L166.58,561.18 L166.63,561.80 L166.67,562.42 L166.71,563.05 L166.75,563.68 L166.79,564.31 L166.84,564.94 L166.88,565.57 L166.92,566.20 L166.96,566.84 L167.00,567.47 L167.04,568.10 L167.08,568.74 L167.12,569.37 L167.16,570.01 L167.20,570.65 L167.23,571.28 L167.27,571.92 L167.31,572.55 L167.35,573.19 L167.38,573.82 L167.42,574.46 L167.45,575.09 L167.49,575.72 L167.52,576.36 L167.56,576.99 L167.59,577.62 L167.62,578.25 L167.66,578.88 L167.69,579.52 L167.72,580.15 L167.75,580.78 L167.78,581.41 L167.81,582.04 L167.84,582.67 L167.87,583.30 L167.90,583.93 L167.93,584.56 L167.96,585.19 L167.99,585.82 L168.02,586.44 L168.05,587.07 L168.08,587.70 L168.11,588.33 L168.14,588.96 L168.16,589.59 L168.19,590.22 L168.22,590.85 L168.25,591.48 L168.27,592.11 L168.30,592.74 L168.33,593.37 L168.36,594.00 L168.38,594.63 L168.41,595.26 L168.44,595.89 L168.47,596.52 L168.49,597.15 L168.52,597.79 L168.55,598.42 L168.58,599.05 L168.61,599.68 L168.63,600.32 L168.66,600.95 L168.69,601.58 L168.72,602.22 L168.75,602.85 L168.77,603.49 L168.80,604.12 L168.83,604.76 L168.86,605.39 L168.89,606.03 L168.92,606.66 L168.95,607.30 L168.98,607.94 L169.00,608.57 L169.03,609.21 L169.06,609.84 L169.09,610.48 L169.12,611.12 L169.15,611.75 L169.18,612.39 L169.21,613.03 L169.24,613.66 L169.27,614.30 L169.30,614.94 L169.33,615.57 L169.36,616.21 L169.39,616.85 L169.42,617.48 L169.45,618.12 L169.48,618.75 L169.51,619.39 L169.54,620.03 L169.57,620.66 L169.60,621.30 L169.63,621.93 L169.66,622.57 L169.69,623.20 L169.72,623.84 L169.75,624.47 L169.78,625.11 L169.82,625.74 L169.85,626.37 L169.88,627.01 L169.91,627.64 L169.94,628.27 L169.97,628.91 L170.00,629.54 L170.03,630.17 L170.07,630.80 L170.10,631.43 L170.13,632.06 L170.16,632.69 L170.19,633.32 L170.23,633.95 L170.26,634.58 L170.29,635.21 L170.32,635.83 L170.35,636.46 L170.39,637.09 L170.42,637.71 L170.45,638.34 L170.48,638.96 L170.52,639.59 L170.55,640.21 L170.58,640.83 L170.61,641.46 L170.65,642.08 L170.68,642.70 L170.71,643.32 L170.75,643.94 L170.78,644.56 L170.81,645.18 L170.85,645.79 L170.88,646.41 L170.91,647.03 L170.95,647.64 L170.98,648.26 L171.01,648.88 L171.05,649.50 L171.09,650.13 L171.12,650.75 L171.16,651.39 L171.20,652.02 L171.24,652.66 L171.28,653.31 L171.32,653.97 L171.37,654.63 L171.41,655.30 L171.46,655.98 L171.51,656.66 L171.56,657.36 L171.62,658.07 L171.67,658.79 L171.73,659.52 L171.79,660.26 L171.86,660.99 L171.93,661.72 L172.02,662.41 L172.11,663.07 L172.21,663.67 L172.33,664.21 L172.47,664.67 L172.62,665.04 L172.79,665.30 L172.98,665.45 L173.18,665.48 L173.38,665.37 L173.58,665.12 L173.77,664.73 L173.95,664.22 L174.14,663.67 L174.32,663.11 L174.49,662.55 L174.67,661.97 L174.84,661.40 L175.02,660.82 L175.19,660.24 L175.36,659.65 L175.54,659.06 L175.71,658.46 L175.88,657.87 L176.05,657.27 L176.23,656.66 L176.40,656.06 L176.58,655.45 L176.75,654.85 L176.93,654.24 L177.11,653.63 L177.30,653.01 L177.48,652.40 L177.67,651.79 L177.86,651.18 L178.05,650.56 L178.25,649.95 L178.45,649.34 L178.66,648.73 L178.87,648.12 L179.09,647.52 L179.30,646.91 L179.53,646.31 L179.76,645.70 L179.99,645.11 L180.23,644.51 L180.48,643.92 L180.74,643.33 L181.00,642.74 L181.26,642.16 L181.54,641.58 L181.82,641.01 L182.11,640.44 L182.40,639.87 L182.70,639.31 L183.01,638.76 L183.33,638.21 L183.65,637.66 L183.98,637.12 L184.32,636.58 L184.66,636.05 L185.01,635.52 L185.37,635.00 L185.73,634.49 L186.10,633.97 L186.47,633.47 L186.86,632.97 L187.25,632.47 L187.64,631.99 L188.04,631.50 L188.45,631.03 L188.86,630.55 L189.28,630.09 L189.71,629.63 L190.14,629.18 L190.58,628.73 L191.02,628.29 L191.47,627.85 L191.93,627.43 L192.39,627.01 L192.86,626.59 L193.33,626.18 L193.81,625.78 L194.30,625.39 L194.79,625.00 L195.28,624.62 L195.78,624.25 L196.29,623.88 L196.80,623.52 L197.32,623.17 L197.84,622.83 L198.37,622.49 L198.90,622.16 L199.44,621.83 L199.98,621.52 L200.53,621.20 L201.08,620.90 L201.63,620.60 L202.19,620.31 L202.75,620.02 L203.31,619.74 L203.88,619.47 L204.46,619.20 L205.03,618.94 L205.61,618.68 L206.19,618.43 L206.77,618.19 L207.36,617.95 L207.95,617.71 L208.54,617.48 L209.13,617.26 L209.73,617.04 L210.33,616.83 L210.93,616.62 L211.53,616.41 L212.13,616.21 L212.73,616.02 L213.34,615.83 L213.94,615.64 L214.55,615.46 L215.16,615.28 L215.77,615.11 L216.38,614.94 L216.99,614.77 L217.60,614.61 L218.21,614.45 L218.82,614.30 L219.43,614.15 L220.05,614.00 L220.66,613.86 L221.28,613.72 L221.89,613.58 L222.51,613.45 L223.13,613.32 L223.75,613.20 L224.36,613.07 L224.98,612.96 L225.60,612.84 L226.22,612.73 L226.84,612.62 L227.47,612.51 L228.09,612.41 L228.71,612.31 L229.33,612.21 L229.96,612.12 L230.58,612.03 L231.21,611.94 L231.83,611.85 L232.46,611.77 L233.08,611.69 L233.71,611.61 L234.34,611.53 L234.97,611.46 L235.59,611.39 L236.22,611.32 L236.85,611.25 L237.48,611.19 L238.11,611.12 L238.74,611.06 L239.37,611.01 L240.00,610.95 L240.63,610.89 L241.26,610.84 L241.89,610.79 L242.53,610.74 L243.16,610.69 L243.79,610.65 L244.42,610.60 L245.06,610.56 L245.69,610.52 L246.32,610.47 L246.96,610.44 L247.59,610.40 L248.22,610.36 L248.86,610.32 L249.49,610.29 L250.13,610.26 L250.76,610.22 L251.39,610.19 L252.03,610.16 L252.66,610.13 L253.30,610.10 L253.93,610.07 L254.57,610.04 L255.20,610.02 L255.84,609.99 L256.47,609.96 L257.11,609.94 L257.74,609.91 L258.38,609.88 L259.01,609.86 L259.64,609.83 L260.28,609.81 L260.91,609.78 L261.55,609.76 L262.18,609.73 L262.82,609.70 L263.45,609.68 L264.08,609.65 L264.72,609.63 L265.35,609.60 L265.98,609.57 L266.62,609.55 L267.25,609.52 L267.88,609.49 L268.52,609.46 L269.15,609.43 L269.78,609.41 L270.41,609.38 L271.05,609.35 L271.68,609.32 L272.31,609.29 L272.94,609.26 L273.58,609.23 L274.21,609.20 L274.84,609.18 L275.47,609.15 L276.10,609.12 L276.73,609.09 L277.37,609.06 L278.00,609.03 L278.63,609.00 L279.26,608.97 L279.89,608.95 L280.52,608.92 L281.15,608.89 L281.79,608.86 L282.42,608.83 L283.05,608.81 L283.68,608.78 L284.31,608.75 L284.94,608.72 L285.57,608.70 L286.21,608.67 L286.84,608.65 L287.47,608.62 L288.10,608.60 L288.73,608.57 L289.36,608.55 L290.00,608.52 L290.63,608.50 L291.26,608.48 L291.89,608.45 L292.52,608.43 L293.16,608.41 L293.79,608.39 L294.42,608.37 L295.05,608.35 L295.69,608.33 L296.32,608.31 L296.95,608.30 L297.58,608.28 L298.22,608.26 L298.85,608.25 L299.48,608.23 L300.12,608.22 L300.75,608.21 L301.38,608.19 L302.02,608.18 L302.65,608.17 L303.29,608.16 L303.92,608.15 L304.56,608.14 L305.19,608.14 L305.83,608.13 L306.46,608.12 L307.10,608.12 L307.73,608.12 L308.37,608.11 L309.01,608.11 L309.64,608.11 L310.28,608.11 L310.92,608.11 L311.55,608.12 L312.19,608.12 L312.83,608.12" fill="none" stroke="#1a8a3c" stroke-width="4.40" stroke-linejoin="round" stroke-linecap="butt"/>
<path d="M386.32,606.43 L387.01,606.41 L387.70,606.40 L388.39,606.39 L389.08,606.38 L389.78,606.37 L390.47,606.37 L391.16,606.36 L391.86,606.35 L392.55,606.34 L393.24,606.33 L393.94,606.32 L394.63,606.32 L395.32,606.31 L396.02,606.30 L396.71,606.29 L397.40,606.29 L398.10,606.28 L398.79,606.27 L399.49,606.27 L400.18,606.26 L400.88,606.25 L401.57,606.25 L402.27,606.24 L402.96,606.24 L403.65,606.23 L404.35,606.22 L405.04,606.22 L405.74,606.21 L406.43,606.21 L407.13,606.20 L407.82,606.20 L408.52,606.19 L409.21,606.19 L409.91,606.18 L410.61,606.18 L411.30,606.17 L412.00,606.17 L412.69,606.16 L413.39,606.16 L414.08,606.15 L414.78,606.15 L415.47,606.14 L416.17,606.14 L416.86,606.13 L417.56,606.12 L418.25,606.12 L418.95,606.11 L419.64,606.11 L420.34,606.10 L421.04,606.10 L421.73,606.09 L422.43,606.09 L423.12,606.08 L423.82,606.07 L424.51,606.07 L425.21,606.06 L425.90,606.05 L426.60,606.05 L427.29,606.04 L427.99,606.03 L428.68,606.03 L429.38,606.02 L430.07,606.01 L430.77,606.00 L431.46,605.99 L432.15,605.99 L432.85,605.98 L433.54,605.97 L434.24,605.96 L434.93,605.95 L435.62,605.94 L436.32,605.93 L437.01,605.92 L437.71,605.91 L438.40,605.90 L439.09,605.89 L439.79,605.88 L440.48,605.87 L441.17,605.85 L441.86,605.84 L442.56,605.83 L443.25,605.82 L443.94,605.80 L444.63,605.79 L445.33,605.78 L446.02,605.76 L446.71,605.75 L447.40,605.73 L448.10,605.72 L448.79,605.71 L449.48,605.69 L450.18,605.68 L450.87,605.66 L451.56,605.65 L452.25,605.64 L452.95,605.62 L453.64,605.61 L454.34,605.59 L455.03,605.58 L455.72,605.57 L456.42,605.55 L457.11,605.54 L457.81,605.53 L458.50,605.52 L459.20,605.51 L459.90,605.49 L460.59,605.48 L461.29,605.47 L461.99,605.46 L462.68,605.45 L463.38,605.44 L464.08,605.43 L464.78,605.42 L465.48,605.42 L466.18,605.41 L466.88,605.40 L467.58,605.40 L468.28,605.39 L468.99,605.38 L469.69,605.37 L470.39,605.36 L471.09,605.34 L471.79,605.31 L472.48,605.29 L473.18,605.25 L473.87,605.20 L474.57,605.15 L475.26,605.09 L475.94,605.01 L476.63,604.93 L477.31,604.83 L477.99,604.72 L478.66,604.59 L479.33,604.45 L480.00,604.30 L480.66,604.12 L481.32,603.94 L481.97,603.73 L482.62,603.51 L483.26,603.27 L483.89,603.02 L484.52,602.75 L485.14,602.46 L485.76,602.16 L486.36,601.84 L486.96,601.51 L487.55,601.15 L488.12,600.79 L488.69,600.40 L489.26,600.00 L489.81,599.59 L490.34,599.16 L490.87,598.71 L491.39,598.25 L491.90,597.77 L492.39,597.28 L492.88,596.77 L493.35,596.26 L493.81,595.73 L494.25,595.19 L494.69,594.63 L495.11,594.07 L495.52,593.50 L495.92,592.92 L496.30,592.33 L496.67,591.74 L497.02,591.14 L497.36,590.53 L497.69,589.91 L498.00,589.29 L498.30,588.67 L498.58,588.04 L498.86,587.41 L499.12,586.77 L499.36,586.13 L499.60,585.48 L499.83,584.83 L500.05,584.18 L500.26,583.52 L500.46,582.86 L500.65,582.20 L500.83,581.54 L501.01,580.87 L501.18,580.20 L501.35,579.53 L501.51,578.86 L501.67,578.19 L501.82,577.51 L501.97,576.84 L502.11,576.16 L502.25,575.49 L502.39,574.81 L502.52,574.13 L502.65,573.45 L502.77,572.77 L502.90,572.09 L503.02,571.40 L503.13,570.72 L503.24,570.04 L503.35,569.35 L503.46,568.67 L503.57,567.98 L503.67,567.29 L503.77,566.61 L503.86,565.92 L503.95,565.23 L504.05,564.54 L504.14,563.85 L504.22,563.16 L504.31,562.47 L504.39,561.78 L504.47,561.09 L504.55,560.40 L504.63,559.70 L504.70,559.01 L504.78,558.32 L504.85,557.63 L504.92,556.93 L504.99,556.24 L505.06,555.55 L505.13,554.86 L505.20,554.16 L505.26,553.47 L505.33,552.78 L505.40,552.08 L505.46,551.39 L505.52,550.70 L505.59,550.01 L505.65,549.31 L505.71,548.62 L505.77,547.93 L505.84,547.24 L505.90,546.54 L505.96,545.85 L506.02,545.16 L506.08,544.47 L506.13,543.78 L506.19,543.08 L506.25,542.39 L506.31,541.70 L506.36,541.01 L506.42,540.32 L506.48,539.63 L506.53,538.93 L506.59,538.24 L506.64,537.55 L506.70,536.86 L506.75,536.17 L506.81,535.48 L506.86,534.78 L506.91,534.09 L506.97,533.40 L507.02,532.71 L507.07,532.02 L507.12,531.33 L507.17,530.63 L507.22,529.94 L507.28,529.25 L507.33,528.56 L507.38,527.87 L507.43,527.18 L507.48,526.48 L507.53,525.79 L507.58,525.10 L507.63,524.41 L507.68,523.72 L507.72,523.02 L507.77,522.33 L507.82,521.64 L507.87,520.95 L507.92,520.25 L507.97,519.56 L508.01,518.87 L508.06,518.18 L508.11,517.48 L508.16,516.79 L508.21,516.10 L508.25,515.41 L508.30,514.71 L508.35,514.02 L508.40,513.33 L508.44,512.63 L508.49,511.94 L508.54,511.25 L508.58,510.55 L508.63,509.86 L508.68,509.17 L508.73,508.47 L508.77,507.78 L508.82,507.08 L508.87,506.39 L508.92,505.69 L508.96,505.00 L509.01,504.30 L509.06,503.61 L509.11,502.91 L509.15,502.22 L509.20,501.52 L509.25,500.83 L509.30,500.13 L509.35,499.44 L509.39,498.74 L509.44,498.04 L509.49,497.35 L509.54,496.65 L509.60,495.96 L509.65,495.26 L509.71,494.57 L509.77,493.88 L509.83,493.19 L509.90,492.50 L509.96,491.82 L510.04,491.13 L510.11,490.45 L510.19,489.77 L510.28,489.09 L510.37,488.42 L510.46,487.75 L510.56,487.08 L510.66,486.46 L510.75,486.08 L510.82,486.14 L510.87,486.59 L510.90,487.32 L510.95,488.17 L511.02,488.99 L511.11,489.74 L511.21,490.45 L511.32,491.13 L511.41,491.80 L511.49,492.48 L511.57,493.16 L511.64,493.85 L511.70,494.54 L511.75,495.23 L511.80,495.92 L511.85,496.62 L511.90,497.31 L511.95,498.01 L512.00,498.70 L512.05,499.40 L512.09,500.09 L512.14,500.78 L512.19,501.48 L512.24,502.17 L512.29,502.86 L512.34,503.56 L512.39,504.25 L512.44,504.94 L512.49,505.64 L512.53,506.33 L512.58,507.02 L512.63,507.71 L512.68,508.40 L512.73,509.10 L512.78,509.79 L512.83,510.48 L512.87,511.17 L512.92,511.86 L512.97,512.55 L513.02,513.25 L513.07,513.94 L513.12,514.63 L513.16,515.32 L513.21,516.01 L513.26,516.71 L513.30,517.40 L513.35,518.09 L513.40,518.78 L513.44,519.47 L513.49,520.17 L513.54,520.86 L513.58,521.55 L513.63,522.24 L513.67,522.94 L513.72,523.63 L513.76,524.32 L513.80,525.01 L513.85,525.71 L513.89,526.40 L513.94,527.09 L513.98,527.79 L514.02,528.48 L514.07,529.18 L514.11,529.87 L514.15,530.56 L514.20,531.26 L514.24,531.95 L514.28,532.64 L514.33,533.34 L514.37,534.03 L514.42,534.73 L514.46,535.42 L514.51,536.12 L514.55,536.81 L514.60,537.50 L514.64,538.20 L514.69,538.89 L514.74,539.59 L514.79,540.28 L514.84,540.97 L514.89,541.67 L514.94,542.36 L514.99,543.06 L515.04,543.75 L515.09,544.44 L515.14,545.14 L515.20,545.83 L515.25,546.52 L515.31,547.22 L515.36,547.91 L515.42,548.60 L515.48,549.29 L515.54,549.99 L515.60,550.68 L515.66,551.37 L515.73,552.06 L515.79,552.76 L515.86,553.45 L515.93,554.14 L515.99,554.83 L516.06,555.52 L516.14,556.21 L516.21,556.90 L516.28,557.59 L516.36,558.28 L516.44,558.97 L516.51,559.66 L516.59,560.35 L516.68,561.04 L516.76,561.73 L516.85,562.42 L516.93,563.11 L517.02,563.79 L517.11,564.48 L517.21,565.17 L517.30,565.85 L517.40,566.54 L517.50,567.23 L517.60,567.91 L517.70,568.60 L517.81,569.28 L517.92,569.97 L518.02,570.65 L518.14,571.33 L518.25,572.02 L518.37,572.70 L518.49,573.38 L518.61,574.06 L518.73,574.75 L518.86,575.43 L518.98,576.11 L519.12,576.79 L519.25,577.47 L519.39,578.14 L519.54,578.82 L519.69,579.50 L519.84,580.17 L520.01,580.84 L520.18,581.51 L520.36,582.18 L520.54,582.84 L520.74,583.50 L520.95,584.16 L521.17,584.82 L521.40,585.47 L521.65,586.11 L521.90,586.76 L522.17,587.40 L522.46,588.03 L522.75,588.66 L523.07,589.29 L523.40,589.91 L523.74,590.52 L524.09,591.13 L524.46,591.73 L524.84,592.33 L525.23,592.92 L525.63,593.49 L526.04,594.07 L526.46,594.63 L526.89,595.18 L527.34,595.73 L527.78,596.26 L528.24,596.78 L528.71,597.30 L529.18,597.80 L529.66,598.29 L530.15,598.76 L530.65,599.22 L531.16,599.65 L531.69,600.06 L532.24,600.45 L532.81,600.80 L533.39,601.12 L534.00,601.41 L534.64,601.66 L535.29,601.88 L535.95,602.08 L536.63,602.25 L537.32,602.41 L538.01,602.56 L538.71,602.69 L539.40,602.82 L540.10,602.95 L540.79,603.08 L541.48,603.20 L542.18,603.32 L542.87,603.44 L543.56,603.55 L544.24,603.66 L544.93,603.77 L545.62,603.88 L546.31,603.98 L546.99,604.08 L547.68,604.17 L548.37,604.27 L549.05,604.36 L549.74,604.45 L550.42,604.53 L551.11,604.62 L551.80,604.70 L552.48,604.77 L553.17,604.85 L553.86,604.92 L554.55,604.98 L555.23,605.05 L555.92,605.11 L556.61,605.17 L557.30,605.23 L557.99,605.29 L558.68,605.34 L559.37,605.39 L560.06,605.44 L560.76,605.48 L561.45,605.53 L562.14,605.57 L562.83,605.61 L563.52,605.65 L564.22,605.68 L564.91,605.72 L565.60,605.75 L566.30,605.78 L566.99,605.81 L567.68,605.84 L568.38,605.87 L569.07,605.89 L569.77,605.91 L570.46,605.94 L571.16,605.96 L571.85,605.98 L572.55,605.99 L573.24,606.01 L573.94,606.03 L574.63,606.04 L575.33,606.06 L576.02,606.07 L576.72,606.08 L577.41,606.10 L578.11,606.11 L578.81,606.12 L579.50,606.13 L580.20,606.14 L580.89,606.15 L581.59,606.16 L582.29,606.16 L582.98,606.17 L583.68,606.18 L584.37,606.19 L585.07,606.20 L585.76,606.21 L586.46,606.21 L587.16,606.22 L587.85,606.23 L588.55,606.24 L589.24,606.25 L589.94,606.26 L590.63,606.27 L591.33,606.28 L592.02,606.29 L592.71,606.30 L593.41,606.31 L594.10,606.33 L594.80,606.34 L595.49,606.36 L596.18,606.37 L596.88,606.39 L597.57,606.41 L598.26,606.42 L598.96,606.44 L599.65,606.47 L600.34,606.49 L601.03,606.51 L601.72,606.54 L602.41,606.56 L603.10,606.59 L603.80,606.62 L604.49,606.65 L605.17,606.69" fill="none" stroke="#f07f22" stroke-width="4.40" stroke-linejoin="round" stroke-linecap="butt"/>
<path d="M386.34,605.54 L386.98,605.49 L387.62,605.43 L388.26,605.37 L388.90,605.32 L389.54,605.26 L390.18,605.21 L390.82,605.15 L391.46,605.10 L392.10,605.04 L392.74,604.99 L393.39,604.93 L394.03,604.88 L394.67,604.82 L395.31,604.77 L395.96,604.71 L396.60,604.66 L397.24,604.60 L397.89,604.55 L398.53,604.50 L399.18,604.44 L399.82,604.39 L400.47,604.33 L401.11,604.28 L401.76,604.22 L402.40,604.17 L403.05,604.11 L403.69,604.06 L404.34,604.00 L404.99,603.95 L405.63,603.89 L406.28,603.84 L406.93,603.78 L407.57,603.72 L408.22,603.67 L408.86,603.61 L409.51,603.55 L410.16,603.50 L410.81,603.44 L411.45,603.38 L412.10,603.32 L412.75,603.26 L413.39,603.20 L414.04,603.14 L414.69,603.08 L415.33,603.02 L415.98,602.96 L416.63,602.90 L417.27,602.84 L417.92,602.77 L418.56,602.71 L419.21,602.65 L419.86,602.58 L420.50,602.52 L421.15,602.45 L421.79,602.39 L422.44,602.32 L423.08,602.25 L423.73,602.18 L424.37,602.11 L425.02,602.04 L425.66,601.97 L426.31,601.90 L426.95,601.83 L427.59,601.76 L428.24,601.68 L428.88,601.61 L429.52,601.53 L430.17,601.46 L430.81,601.38 L431.45,601.30 L432.09,601.22 L432.73,601.14 L433.37,601.06 L434.01,600.98 L434.65,600.90 L435.29,600.82 L435.93,600.73 L436.57,600.65 L437.21,600.56 L437.85,600.47 L438.49,600.38 L439.12,600.29 L439.76,600.20 L440.40,600.11 L441.03,600.02 L441.67,599.92 L442.31,599.83 L442.94,599.73 L443.58,599.63 L444.21,599.53 L444.85,599.44 L445.48,599.33 L446.12,599.23 L446.75,599.13 L447.39,599.02 L448.02,598.92 L448.66,598.81 L449.29,598.71 L449.92,598.60 L450.56,598.49 L451.19,598.38 L451.83,598.26 L452.47,598.15 L453.10,598.03 L453.74,597.92 L454.37,597.80 L455.01,597.68 L455.65,597.56 L456.28,597.44 L456.92,597.32 L457.56,597.20 L458.20,597.07 L458.83,596.95 L459.47,596.82 L460.11,596.69 L460.75,596.56 L461.39,596.43 L462.03,596.30 L462.67,596.17 L463.32,596.03 L463.96,595.90 L464.60,595.76 L465.24,595.62 L465.89,595.48 L466.53,595.33 L467.17,595.19 L467.81,595.04 L468.45,594.88 L469.09,594.72 L469.72,594.56 L470.36,594.39 L470.99,594.22 L471.61,594.04 L472.24,593.85 L472.86,593.66 L473.48,593.47 L474.09,593.26 L474.70,593.05 L475.31,592.83 L475.91,592.61 L476.51,592.37 L477.10,592.13 L477.69,591.88 L478.27,591.62 L478.84,591.35 L479.41,591.07 L479.97,590.77 L480.52,590.47 L481.07,590.16 L481.61,589.84 L482.14,589.50 L482.67,589.15 L483.18,588.79 L483.69,588.42 L484.19,588.04 L484.68,587.64 L485.16,587.22 L485.63,586.80 L486.09,586.36 L486.54,585.91 L486.99,585.45 L487.43,584.98 L487.85,584.49 L488.27,584.00 L488.68,583.50 L489.09,582.99 L489.48,582.46 L489.87,581.94 L490.25,581.40 L490.62,580.85 L490.99,580.30 L491.35,579.75 L491.70,579.18 L492.04,578.62 L492.38,578.04 L492.71,577.47 L493.04,576.89 L493.36,576.30 L493.67,575.72 L493.97,575.13 L494.27,574.54 L494.57,573.94 L494.86,573.35 L495.14,572.76 L495.42,572.16 L495.69,571.57 L495.96,570.98 L496.22,570.39 L496.48,569.80 L496.73,569.21 L496.98,568.63 L497.22,568.05 L497.46,567.48 L497.70,566.91 L497.93,566.34 L498.16,565.78 L498.38,565.21 L498.61,564.65 L498.83,564.09 L499.05,563.53 L499.27,562.96 L499.50,562.39 L499.72,561.81 L499.94,561.22 L500.17,560.63 L500.40,560.03 L500.63,559.42 L500.87,558.79 L501.11,558.16 L501.36,557.51 L501.61,556.84 L501.87,556.16 L502.13,555.46 L502.41,554.74 L502.68,554.02 L502.97,553.31 L503.25,552.61 L503.54,551.94 L503.83,551.30 L504.12,550.70 L504.41,550.16 L504.70,549.69 L504.99,549.29 L505.27,548.97 L505.55,548.75 L505.82,548.63 L506.08,548.62 L506.34,548.74 L506.59,548.96 L506.82,549.29 L507.04,549.70 L507.25,550.19 L507.44,550.74 L507.62,551.33 L507.77,551.97 L507.90,552.63 L508.01,553.30 L508.10,553.98 L508.17,554.65 L508.22,555.33 L508.26,556.01 L508.29,556.69 L508.32,557.36 L508.34,558.03 L508.37,558.70 L508.39,559.36 L508.42,560.02 L508.46,560.67 L508.49,561.32 L508.53,561.97 L508.57,562.62 L508.61,563.26 L508.65,563.90 L508.70,564.54 L508.74,565.18 L508.79,565.81 L508.83,566.45 L508.88,567.08 L508.92,567.72 L508.96,568.36 L509.01,568.99 L509.05,569.63 L509.09,570.27 L509.13,570.91 L509.17,571.55 L509.21,572.19 L509.25,572.84 L509.29,573.48 L509.33,574.13 L509.36,574.77 L509.40,575.42 L509.43,576.06 L509.47,576.71 L509.50,577.36 L509.53,578.01 L509.57,578.66 L509.60,579.31 L509.63,579.96 L509.66,580.61 L509.69,581.26 L509.72,581.91 L509.75,582.56 L509.78,583.21 L509.81,583.86 L509.84,584.52 L509.87,585.17 L509.90,585.82 L509.93,586.47 L509.96,587.12 L509.98,587.78 L510.01,588.43 L510.04,589.08 L510.07,589.73 L510.10,590.38 L510.12,591.03 L510.15,591.68 L510.18,592.33 L510.21,592.98 L510.24,593.63 L510.27,594.28 L510.29,594.93 L510.32,595.57 L510.35,596.22 L510.38,596.87 L510.41,597.52 L510.44,598.16 L510.47,598.81 L510.50,599.45 L510.53,600.10 L510.56,600.74 L510.59,601.39 L510.62,602.03 L510.65,602.68 L510.68,603.32 L510.71,603.96 L510.74,604.61 L510.77,605.25 L510.80,605.89 L510.83,606.54 L510.86,607.18 L510.89,607.82 L510.92,608.46 L510.95,609.11 L510.98,609.75 L511.01,610.39 L511.04,611.03 L511.07,611.68 L511.10,612.32 L511.13,612.96 L511.17,613.60 L511.20,614.24 L511.23,614.89 L511.26,615.53 L511.29,616.17 L511.32,616.81 L511.35,617.46 L511.38,618.10 L511.41,618.74 L511.44,619.38 L511.48,620.03 L511.51,620.67 L511.54,621.31 L511.57,621.96 L511.60,622.60 L511.63,623.24 L511.66,623.89 L511.69,624.53 L511.72,625.18 L511.75,625.82 L511.78,626.47 L511.81,627.11 L511.85,627.76 L511.88,628.41 L511.91,629.05 L511.94,629.70 L511.97,630.35 L512.00,630.99 L512.03,631.64 L512.06,632.29 L512.09,632.94 L512.12,633.59 L512.15,634.24 L512.18,634.89 L512.21,635.54 L512.24,636.19 L512.27,636.85 L512.30,637.50 L512.33,638.15 L512.36,638.81 L512.39,639.46 L512.42,640.12 L512.45,640.77 L512.48,641.43 L512.50,642.09 L512.53,642.74 L512.56,643.40 L512.59,644.06 L512.62,644.72 L512.65,645.38 L512.68,646.04 L512.71,646.70 L512.74,647.36 L512.77,648.02 L512.80,648.68 L512.83,649.34 L512.86,650.00 L512.90,650.66 L512.94,651.31 L512.98,651.97 L513.02,652.62 L513.06,653.27 L513.10,653.92 L513.15,654.56 L513.20,655.21 L513.26,655.85 L513.31,656.48 L513.37,657.12 L513.43,657.75 L513.50,658.38 L513.57,659.00 L513.64,659.62 L513.72,660.24 L513.80,660.85 L513.89,661.45 L513.98,662.06 L514.07,662.65 L514.17,663.24 L514.27,663.83 L514.38,664.41 L514.50,664.99 L514.62,665.55 L514.74,666.12 L514.88,666.67 L515.01,667.22 L515.16,667.75 L515.32,668.19 L515.50,668.51 L515.72,668.64 L515.96,668.53 L516.24,668.18 L516.54,667.64 L516.85,666.97 L517.14,666.25 L517.41,665.51 L517.66,664.80 L517.88,664.09 L518.08,663.40 L518.27,662.72 L518.45,662.05 L518.62,661.38 L518.79,660.73 L518.96,660.08 L519.13,659.44 L519.29,658.81 L519.46,658.18 L519.63,657.55 L519.80,656.93 L519.98,656.31 L520.15,655.70 L520.33,655.09 L520.52,654.49 L520.70,653.89 L520.89,653.29 L521.09,652.69 L521.29,652.09 L521.50,651.49 L521.72,650.89 L521.94,650.30 L522.16,649.70 L522.40,649.11 L522.64,648.51 L522.89,647.92 L523.14,647.32 L523.40,646.73 L523.67,646.14 L523.94,645.56 L524.23,644.97 L524.51,644.39 L524.81,643.81 L525.11,643.23 L525.42,642.65 L525.73,642.08 L526.06,641.51 L526.38,640.95 L526.72,640.39 L527.06,639.83 L527.41,639.28 L527.77,638.73 L528.13,638.19 L528.50,637.65 L528.87,637.12 L529.26,636.59 L529.65,636.07 L530.04,635.56 L530.45,635.05 L530.86,634.55 L531.27,634.05 L531.70,633.56 L532.13,633.08 L532.57,632.61 L533.01,632.14 L533.46,631.68 L533.92,631.23 L534.39,630.79 L534.86,630.35 L535.34,629.93 L535.83,629.51 L536.32,629.10 L536.82,628.70 L537.32,628.31 L537.83,627.93 L538.35,627.55 L538.87,627.18 L539.40,626.82 L539.94,626.47 L540.48,626.13 L541.02,625.79 L541.57,625.46 L542.13,625.14 L542.69,624.82 L543.25,624.51 L543.82,624.21 L544.39,623.92 L544.97,623.63 L545.55,623.35 L546.13,623.08 L546.72,622.81 L547.31,622.55 L547.91,622.29 L548.50,622.04 L549.10,621.80 L549.71,621.56 L550.31,621.33 L550.92,621.11 L551.53,620.88 L552.14,620.67 L552.76,620.46 L553.38,620.26 L553.99,620.06 L554.61,619.86 L555.23,619.68 L555.86,619.49 L556.48,619.31 L557.10,619.14 L557.73,618.97 L558.35,618.80 L558.98,618.64 L559.61,618.48 L560.24,618.33 L560.87,618.18 L561.50,618.04 L562.13,617.90 L562.76,617.76 L563.39,617.63 L564.02,617.50 L564.66,617.37 L565.29,617.25 L565.93,617.13 L566.56,617.02 L567.20,616.90 L567.84,616.80 L568.47,616.69 L569.11,616.59 L569.75,616.49 L570.39,616.39 L571.03,616.30 L571.67,616.21 L572.31,616.12 L572.95,616.03 L573.59,615.95 L574.23,615.87 L574.87,615.79 L575.52,615.71 L576.16,615.64 L576.80,615.57 L577.45,615.50 L578.09,615.43 L578.73,615.36 L579.38,615.30 L580.02,615.24 L580.67,615.18 L581.31,615.12 L581.96,615.06 L582.60,615.00 L583.25,614.94 L583.89,614.89 L584.54,614.84 L585.19,614.78 L585.83,614.73 L586.48,614.68 L587.13,614.63 L587.77,614.58 L588.42,614.54 L589.07,614.49 L589.71,614.44 L590.36,614.39 L591.00,614.35 L591.65,614.30 L592.30,614.25 L592.94,614.21 L593.59,614.16 L594.24,614.11 L594.88,614.07 L595.53,614.02 L596.17,613.97 L596.82,613.92 L597.46,613.87 L598.11,613.83 L598.75,613.78 L599.40,613.73 L600.04,613.67 L600.68,613.62 L601.33,613.57 L601.97,613.51 L602.61,613.46 L603.25,613.40 L603.90,613.34 L604.54,613.28 L605.18,613.22" fill="none" stroke="#1a8a3c" stroke-width="4.40" stroke-linejoin="round" stroke-linecap="butt"/>
<line x1="230.00" y1="501.20" x2="262.10" y2="501.20" stroke="#f07f22" stroke-width="4.40"/>
<line x1="230.00" y1="530.60" x2="262.10" y2="530.60" stroke="#1a8a3c" stroke-width="4.40"/>
<text x="266.60" y="505.70" font-size="19.00" fill="#1e1e1e" text-anchor="start" font-weight="normal">Re(&#963;<tspan font-size="14" dy="3">x</tspan><tspan dy="-3">)</tspan></text>
<text x="266.60" y="535.40" font-size="19.00" fill="#1e1e1e" text-anchor="start" font-weight="normal">Im(&#963;<tspan font-size="14" dy="3">x</tspan><tspan dy="-3">)</tspan></text>
<line x1="530.00" y1="501.20" x2="562.10" y2="501.20" stroke="#f07f22" stroke-width="4.40"/>
<line x1="530.00" y1="530.60" x2="562.10" y2="530.60" stroke="#1a8a3c" stroke-width="4.40"/>
<text x="566.60" y="505.70" font-size="19.00" fill="#1e1e1e" text-anchor="start" font-weight="normal">Re(&#963;<tspan font-size="14" dy="3">y</tspan><tspan dy="-3">)</tspan></text>
<text x="566.60" y="535.40" font-size="19.00" fill="#1e1e1e" text-anchor="start" font-weight="normal">Im(&#963;<tspan font-size="14" dy="3">y</tspan><tspan dy="-3">)</tspan></text>
<ellipse cx="250.1" cy="58.9" rx="36.3" ry="28" fill="#fdd22b"/>
<line x1="213.80" y1="59.10" x2="278.00" y2="59.10" stroke="#111" stroke-width="1.30"/>
<path d="M287,59.1 L276.3,53.6 L278.6,59.1 L276.3,64.6 Z" fill="#111"/>
<text x="252.30" y="56.20" font-size="16.50" fill="#151520" text-anchor="middle" font-weight="bold">E</text>
<ellipse cx="564.5" cy="58.9" rx="36.3" ry="27.8" fill="#fdd22b"/>
<line x1="565.00" y1="86.70" x2="565.00" y2="39.00" stroke="#111" stroke-width="1.30"/>
<path d="M565,30.6 L559.6,41 L565,38.8 L570.4,41 Z" fill="#111"/>
<text x="556.00" y="59.30" font-size="16.50" fill="#151520" text-anchor="middle" font-weight="bold">E</text>
<text x="0" y="0" font-size="26" font-weight="bold" fill="#000" text-anchor="middle" transform="translate(196.5,15.8) scale(0.9,1)">TM</text>
<text x="0" y="0" font-size="26" font-weight="bold" fill="#000" text-anchor="middle" transform="translate(501,15.8) scale(0.9,1)">TE</text>
<text x="2.80" y="32.90" font-size="18.70" fill="#1e1e1e" text-anchor="start" font-weight="normal">(a)</text>
<text x="2.80" y="259.60" font-size="18.70" fill="#1e1e1e" text-anchor="start" font-weight="normal">(b)</text>
<text x="2.80" y="484.60" font-size="18.70" fill="#1e1e1e" text-anchor="start" font-weight="normal">(c)</text>
<rect x="0.70" y="56.60" width="37.00" height="136.60" rx="6.5" ry="6.5" fill="#f9f5c4" stroke="#7a7a7a" stroke-width="1"/><text x="0" y="0" font-size="27" font-weight="bold" fill="#000" text-anchor="middle" transform="translate(27.60,125.50) rotate(-90) scale(0.89,1)">Experiment</text>
<rect x="647.90" y="56.80" width="36.40" height="137.10" rx="6.5" ry="6.5" fill="#f9f5c4" stroke="#7a7a7a" stroke-width="1"/><text x="0" y="0" font-size="27" font-weight="bold" fill="#000" text-anchor="middle" transform="translate(674.50,125.50) rotate(-90) scale(0.89,1)">Experiment</text>
<rect x="0.70" y="282.60" width="36.60" height="136.80" rx="6.5" ry="6.5" fill="#f9f5c4" stroke="#7a7a7a" stroke-width="1"/><text x="0" y="0" font-size="27" font-weight="bold" fill="#000" text-anchor="middle" transform="translate(27.00,353.00) rotate(-90) scale(0.89,1)">Simulation</text>
<rect x="647.90" y="283.10" width="36.40" height="136.60" rx="6.5" ry="6.5" fill="#f9f5c4" stroke="#7a7a7a" stroke-width="1"/><text x="0" y="0" font-size="27" font-weight="bold" fill="#000" text-anchor="middle" transform="translate(674.50,353.00) rotate(-90) scale(0.89,1)">Simulation</text>
<text x="-144.60" y="65.40" font-size="22.00" font-weight="bold" fill="#000" transform="rotate(-90)">R</text>
<text x="-129.60" y="64.10" font-size="21.00" font-weight="bold" fill="#000" transform="rotate(-90)">=</text>
<rect x="50.00" y="113.70" width="20.00" height="1.60" fill="#000"/>
<text x="-111.80" y="65.40" font-size="21.00" font-weight="bold" fill="#000" transform="rotate(-90)">r</text>
<rect x="50.00" y="99.15" width="20.00" height="1.60" fill="#000"/>
<text x="-94.80" y="57.70" font-size="14.00" font-weight="normal" fill="#000" transform="rotate(-90)">2</text>
<rect x="46.00" y="369.20" width="23.40" height="1.60" fill="#000"/>
<text x="-365.60" y="61.00" font-size="21.00" font-weight="bold" fill="#000" transform="rotate(-90)">S</text>
<text x="-352.60" y="67.30" font-size="15.00" font-weight="bold" fill="#000" transform="rotate(-90)">11</text>
<rect x="46.00" y="334.90" width="23.40" height="1.60" fill="#000"/>
<text x="-331.20" y="53.20" font-size="18.00" font-weight="bold" fill="#000" transform="rotate(-90)">2</text>
<text x="0" y="0" font-size="20.20" font-weight="bold" fill="#000" text-anchor="middle" transform="translate(60.30,562.60) rotate(-90)">&#963;&#8201;(arb. un.)</text>
<text x="0" y="0" font-size="21.00" font-weight="bold" fill="#ec1c24" text-anchor="middle" transform="translate(636.90,128.80) rotate(-90)">arg(r)</text>
<text x="0" y="0" font-size="20.00" font-weight="bold" fill="#ec1c24" text-anchor="middle" transform="translate(638.50,352.20) rotate(-90)">arg(S<tspan font-size="14.5" dy="3.3" dx="0.3">1</tspan><tspan font-size="14.5" dx="1.2">1</tspan><tspan dy="-3.3" dx="0.3">)</tspan></text>
<text x="213.50" y="711.90" font-size="20.80" fill="#000" text-anchor="middle" font-weight="bold">Wavelength (nm)</text>
<text x="508.30" y="711.90" font-size="20.80" fill="#000" text-anchor="middle" font-weight="bold">Wavelength (nm)</text>
</svg></body></html>
